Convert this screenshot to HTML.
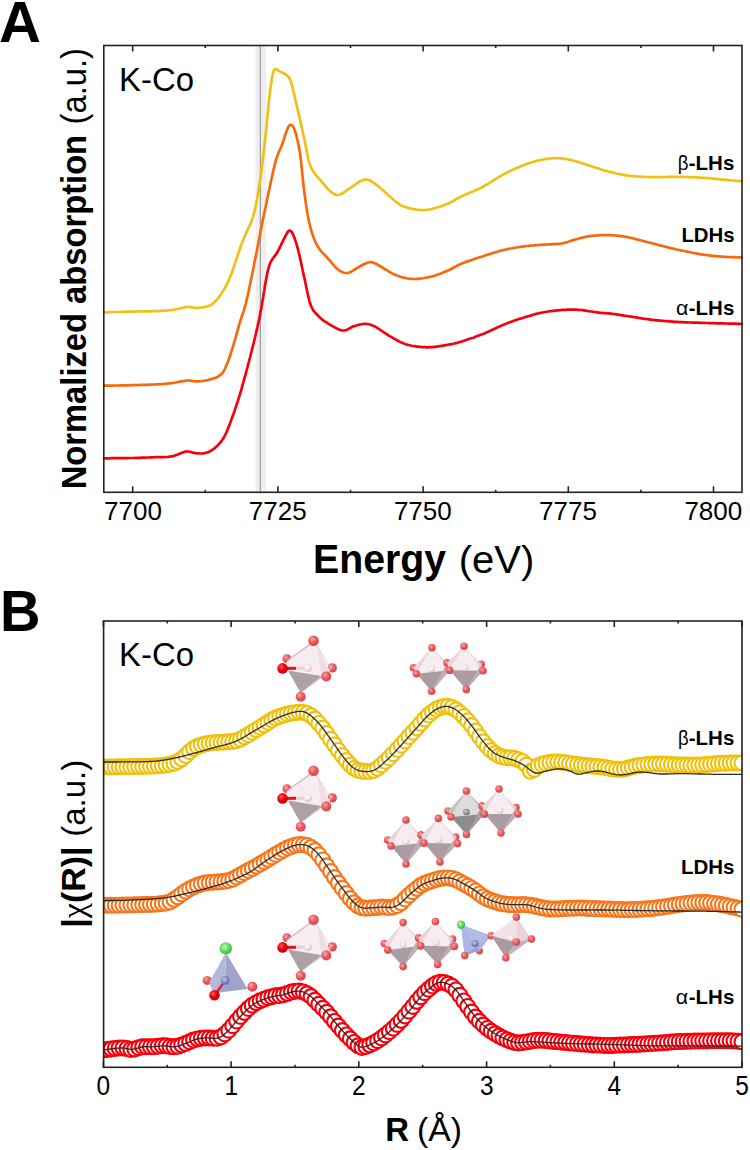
<!DOCTYPE html>
<html><head><meta charset="utf-8"><style>
html,body{margin:0;padding:0;background:#fff;width:750px;height:1150px;overflow:hidden}
svg{display:block}
</style></head><body>
<svg width="750" height="1150" viewBox="0 0 750 1150">
<defs>
<radialGradient id="gO" cx="0.38" cy="0.35" r="0.7"><stop offset="0" stop-color="#f7a5a5"/><stop offset="0.5" stop-color="#e85a5e"/><stop offset="1" stop-color="#d84048"/></radialGradient>
<radialGradient id="gD" cx="0.38" cy="0.35" r="0.7"><stop offset="0" stop-color="#ff5a5a"/><stop offset="0.5" stop-color="#e8000c"/><stop offset="1" stop-color="#c0000a"/></radialGradient>
<radialGradient id="gC" cx="0.4" cy="0.38" r="0.7"><stop offset="0" stop-color="#ffffff"/><stop offset="0.6" stop-color="#f6d8e0"/><stop offset="1" stop-color="#d8a8b4"/></radialGradient>
<radialGradient id="gK" cx="0.4" cy="0.38" r="0.7"><stop offset="0" stop-color="#cfcfcf"/><stop offset="0.6" stop-color="#8a8a8a"/><stop offset="1" stop-color="#5a5a5a"/></radialGradient>
<radialGradient id="gG" cx="0.4" cy="0.38" r="0.7"><stop offset="0" stop-color="#b8ffb0"/><stop offset="0.55" stop-color="#5ad65a"/><stop offset="1" stop-color="#38b040"/></radialGradient>
<radialGradient id="gB" cx="0.4" cy="0.38" r="0.7"><stop offset="0" stop-color="#c8ccf0"/><stop offset="0.6" stop-color="#7a80b8"/><stop offset="1" stop-color="#5a6098"/></radialGradient>
<clipPath id="clipB"><rect x="103.6" y="621" width="638.4" height="446.3"/></clipPath>
</defs>
<rect width="750" height="1150" fill="#fff"/>
<g font-family="Liberation Sans, sans-serif" font-weight="bold">
<text x="-1" y="41.5" font-size="58">A</text>
<text x="0" y="631" font-size="58" textLength="40.5" lengthAdjust="spacingAndGlyphs">B</text>
</g>
<!-- panel A -->
<rect x="255.5" y="46" width="10.5" height="446" fill="#efefef"/>
<line x1="260.3" y1="46" x2="260.3" y2="492" stroke="#8a8a8a" stroke-width="1"/>
<g fill="none" stroke-width="2.7" stroke-linejoin="round" stroke-linecap="round">
<path d="M104.0,312.4 L105.7,312.4 L107.0,312.3 L108.5,312.3 L110.0,312.2 L111.5,312.2 L113.0,312.1 L114.5,312.1 L116.0,312.0 L117.5,312.0 L119.0,312.0 L120.5,311.9 L122.0,311.9 L123.5,311.8 L125.0,311.8 L126.5,311.7 L128.0,311.7 L129.5,311.7 L131.0,311.6 L132.5,311.6 L134.0,311.6 L135.5,311.5 L137.0,311.5 L138.5,311.5 L140.0,311.4 L141.5,311.4 L143.0,311.4 L144.5,311.4 L146.0,311.3 L147.5,311.3 L149.0,311.3 L150.5,311.3 L152.0,311.2 L153.5,311.2 L155.0,311.1 L156.5,311.1 L158.0,311.0 L159.5,310.9 L161.0,310.9 L162.5,310.8 L164.0,310.7 L165.5,310.6 L166.9,310.5 L168.4,310.3 L169.9,310.2 L171.4,310.0 L172.9,309.9 L174.4,309.6 L175.9,309.3 L177.3,309.0 L178.8,308.7 L180.3,308.3 L181.7,308.0 L183.2,307.7 L184.6,307.3 L186.1,307.1 L187.6,306.9 L189.1,307.0 L190.6,307.1 L192.0,307.3 L193.5,307.6 L195.0,307.8 L196.5,307.8 L198.0,307.8 L199.5,307.7 L201.0,307.5 L202.5,307.3 L203.9,307.1 L205.4,306.8 L206.9,306.4 L208.3,306.0 L209.7,305.5 L211.0,304.8 L212.3,304.1 L213.5,303.1 L214.5,302.1 L215.6,301.0 L216.6,299.9 L217.6,298.8 L218.5,297.7 L219.4,296.5 L220.2,295.2 L221.1,293.9 L221.9,292.7 L222.7,291.4 L223.5,290.2 L224.3,288.9 L225.0,287.6 L225.7,286.3 L226.5,285.0 L227.1,283.6 L227.8,282.3 L228.4,280.9 L229.0,279.5 L229.6,278.2 L230.2,276.8 L230.7,275.4 L231.3,274.0 L231.8,272.6 L232.3,271.2 L232.8,269.7 L233.3,268.3 L233.8,266.9 L234.3,265.5 L234.8,264.1 L235.2,262.7 L235.7,261.2 L236.2,259.8 L236.7,258.4 L237.2,257.0 L237.6,255.5 L238.1,254.1 L238.6,252.7 L239.1,251.3 L239.6,249.9 L240.0,248.4 L240.5,247.0 L241.0,245.6 L241.5,244.2 L242.1,242.8 L242.6,241.4 L243.1,240.0 L243.7,238.6 L244.3,237.2 L244.9,235.8 L245.5,234.5 L246.1,233.1 L246.7,231.8 L247.4,230.4 L248.0,229.0 L248.6,227.7 L249.3,226.3 L249.9,225.0 L250.5,223.6 L251.1,222.2 L251.6,220.8 L252.1,219.4 L252.6,218.0 L253.1,216.6 L253.5,215.1 L253.9,213.7 L254.3,212.2 L254.7,210.8 L255.0,209.3 L255.3,207.8 L255.6,206.4 L256.0,204.9 L256.2,203.4 L256.5,202.0 L256.8,200.5 L257.1,199.0 L257.3,197.5 L257.6,196.1 L257.8,194.6 L258.1,193.1 L258.3,191.6 L258.5,190.1 L258.7,188.7 L259.0,187.2 L259.2,185.7 L259.4,184.2 L259.6,182.7 L259.9,181.2 L260.1,179.8 L260.3,178.3 L260.5,176.8 L260.7,175.3 L261.0,173.8 L261.2,172.3 L261.4,170.8 L261.6,169.4 L261.7,167.9 L261.9,166.4 L262.1,164.9 L262.3,163.4 L262.5,161.9 L262.7,160.4 L262.9,158.9 L263.0,157.5 L263.2,156.0 L263.4,154.5 L263.6,153.0 L263.7,151.5 L263.9,150.0 L264.1,148.5 L264.3,147.0 L264.4,145.5 L264.6,144.1 L264.8,142.6 L264.9,141.1 L265.1,139.6 L265.3,138.1 L265.4,136.6 L265.6,135.1 L265.8,133.6 L265.9,132.1 L266.1,130.6 L266.2,129.1 L266.4,127.7 L266.5,126.2 L266.7,124.7 L266.8,123.2 L267.0,121.7 L267.1,120.2 L267.2,118.7 L267.4,117.2 L267.5,115.7 L267.7,114.2 L267.8,112.7 L267.9,111.2 L268.1,109.7 L268.2,108.2 L268.4,106.8 L268.5,105.3 L268.7,103.8 L268.8,102.3 L269.0,100.8 L269.1,99.3 L269.3,97.8 L269.5,96.3 L269.6,94.8 L269.8,93.3 L270.0,91.8 L270.2,90.4 L270.4,88.9 L270.6,87.4 L270.8,85.9 L271.0,84.4 L271.2,82.9 L271.5,81.4 L271.7,80.0 L271.9,78.5 L272.2,77.0 L272.5,75.5 L272.8,74.1 L273.2,72.6 L273.6,71.2 L274.2,70.0 L275.1,69.2 L276.2,69.2 L277.3,69.7 L278.4,70.6 L279.6,71.4 L281.0,72.1 L282.3,72.6 L283.7,73.2 L285.0,74.0 L286.2,74.8 L287.4,75.7 L288.4,76.8 L289.2,78.0 L289.9,79.3 L290.5,80.7 L291.0,82.1 L291.4,83.5 L291.8,85.0 L292.2,86.4 L292.6,87.9 L293.0,89.3 L293.3,90.8 L293.7,92.2 L294.0,93.7 L294.4,95.2 L294.7,96.6 L295.1,98.1 L295.4,99.5 L295.7,101.0 L296.1,102.5 L296.4,103.9 L296.7,105.4 L297.1,106.8 L297.4,108.3 L297.8,109.8 L298.1,111.2 L298.4,112.7 L298.8,114.2 L299.1,115.6 L299.4,117.1 L299.7,118.5 L300.1,120.0 L300.4,121.5 L300.7,122.9 L301.0,124.4 L301.4,125.9 L301.7,127.3 L302.0,128.8 L302.3,130.3 L302.7,131.7 L303.0,133.2 L303.3,134.7 L303.6,136.1 L303.9,137.6 L304.3,139.0 L304.6,140.5 L304.9,142.0 L305.2,143.4 L305.5,144.9 L305.8,146.4 L306.1,147.8 L306.4,149.3 L306.7,150.8 L307.0,152.3 L307.2,153.7 L307.5,155.2 L307.8,156.7 L308.1,158.2 L308.4,159.6 L308.8,161.1 L309.3,162.5 L309.7,163.9 L310.2,165.3 L310.8,166.7 L311.4,168.1 L312.1,169.4 L312.9,170.7 L313.7,172.0 L314.5,173.2 L315.4,174.4 L316.4,175.6 L317.3,176.7 L318.3,177.8 L319.3,179.0 L320.3,180.1 L321.2,181.3 L322.2,182.4 L323.2,183.6 L324.1,184.7 L325.1,185.9 L326.1,187.0 L327.1,188.1 L328.1,189.2 L329.2,190.2 L330.3,191.2 L331.5,192.2 L332.7,193.0 L333.9,193.8 L335.3,194.5 L336.7,194.9 L338.1,195.0 L339.5,194.7 L340.9,194.2 L342.2,193.5 L343.5,192.7 L344.7,191.9 L345.9,191.0 L347.1,190.1 L348.4,189.3 L349.6,188.4 L350.9,187.6 L352.1,186.7 L353.3,185.9 L354.5,185.0 L355.8,184.1 L357.0,183.3 L358.2,182.4 L359.5,181.7 L360.8,180.9 L362.2,180.3 L363.6,179.9 L365.0,179.6 L366.5,179.6 L368.0,179.9 L369.4,180.3 L370.7,181.0 L372.0,181.7 L373.2,182.5 L374.5,183.4 L375.7,184.2 L376.9,185.2 L378.1,186.1 L379.2,187.1 L380.3,188.0 L381.5,189.0 L382.6,190.1 L383.7,191.1 L384.8,192.1 L385.9,193.1 L387.0,194.1 L388.1,195.1 L389.3,196.0 L390.4,197.0 L391.6,198.0 L392.7,199.0 L393.8,200.0 L394.9,201.0 L396.1,202.0 L397.2,202.9 L398.5,203.7 L399.7,204.5 L401.1,205.2 L402.4,205.8 L403.8,206.4 L405.2,206.9 L406.6,207.4 L408.1,207.8 L409.5,208.2 L411.0,208.6 L412.4,208.9 L413.9,209.2 L415.4,209.4 L416.9,209.7 L418.4,209.8 L419.8,210.0 L421.3,210.0 L422.8,210.1 L424.3,210.0 L425.8,209.9 L427.3,209.8 L428.8,209.5 L430.3,209.3 L431.7,209.0 L433.2,208.6 L434.7,208.2 L436.1,207.8 L437.5,207.4 L439.0,206.9 L440.4,206.5 L441.8,206.0 L443.2,205.5 L444.6,205.0 L446.0,204.4 L447.4,203.8 L448.8,203.2 L450.1,202.6 L451.4,201.9 L452.8,201.2 L454.1,200.4 L455.4,199.7 L456.7,198.9 L458.0,198.2 L459.3,197.5 L460.7,196.8 L462.0,196.2 L463.4,195.6 L464.7,194.9 L466.1,194.3 L467.5,193.8 L468.9,193.2 L470.2,192.6 L471.6,192.0 L473.0,191.4 L474.4,190.8 L475.8,190.2 L477.1,189.6 L478.5,189.0 L479.8,188.3 L481.2,187.7 L482.5,187.0 L483.8,186.3 L485.1,185.5 L486.4,184.8 L487.7,184.0 L489.0,183.2 L490.3,182.4 L491.6,181.6 L492.8,180.8 L494.1,180.0 L495.4,179.2 L496.6,178.4 L497.9,177.6 L499.2,176.9 L500.5,176.1 L501.8,175.3 L503.1,174.6 L504.4,173.9 L505.7,173.2 L507.1,172.5 L508.4,171.9 L509.8,171.2 L511.1,170.6 L512.5,169.9 L513.8,169.3 L515.2,168.7 L516.6,168.1 L517.9,167.5 L519.3,166.9 L520.7,166.3 L522.1,165.8 L523.5,165.2 L524.9,164.7 L526.3,164.1 L527.7,163.6 L529.1,163.1 L530.5,162.7 L532.0,162.2 L533.4,161.8 L534.9,161.4 L536.3,161.0 L537.8,160.6 L539.2,160.3 L540.7,160.0 L542.2,159.7 L543.6,159.4 L545.1,159.1 L546.6,158.9 L548.1,158.7 L549.6,158.5 L551.0,158.3 L552.5,158.2 L554.0,158.1 L555.5,158.1 L557.0,158.1 L558.5,158.2 L560.0,158.3 L561.5,158.4 L563.0,158.6 L564.5,158.8 L566.0,159.0 L567.5,159.3 L568.9,159.6 L570.4,159.9 L571.8,160.2 L573.3,160.6 L574.8,161.0 L576.2,161.4 L577.6,161.8 L579.1,162.2 L580.5,162.7 L581.9,163.2 L583.3,163.6 L584.8,164.1 L586.2,164.6 L587.6,165.0 L589.0,165.5 L590.5,166.0 L591.9,166.4 L593.3,166.9 L594.7,167.4 L596.2,167.8 L597.6,168.3 L599.0,168.8 L600.4,169.2 L601.9,169.7 L603.3,170.1 L604.8,170.5 L606.2,170.9 L607.7,171.3 L609.1,171.7 L610.6,172.0 L612.0,172.4 L613.5,172.8 L614.9,173.1 L616.4,173.5 L617.8,173.8 L619.3,174.1 L620.8,174.4 L622.3,174.7 L623.7,174.9 L625.2,175.2 L626.7,175.4 L628.2,175.6 L629.7,175.8 L631.2,176.0 L632.6,176.1 L634.1,176.3 L635.6,176.4 L637.1,176.5 L638.6,176.6 L640.1,176.7 L641.6,176.8 L643.1,176.9 L644.6,176.9 L646.1,177.0 L647.6,177.1 L649.1,177.1 L650.6,177.2 L652.1,177.2 L653.6,177.2 L655.1,177.2 L656.6,177.2 L658.1,177.2 L659.6,177.2 L661.1,177.1 L662.6,177.1 L664.1,177.0 L665.6,177.0 L667.1,177.0 L668.6,176.9 L670.1,176.9 L671.6,176.8 L673.1,176.8 L674.6,176.8 L676.1,176.8 L677.6,176.8 L679.1,176.8 L680.6,176.9 L682.1,176.9 L683.6,176.9 L685.1,177.0 L686.6,177.0 L688.1,177.1 L689.6,177.1 L691.1,177.2 L692.6,177.2 L694.1,177.3 L695.6,177.4 L697.1,177.4 L698.6,177.5 L700.1,177.6 L701.6,177.7 L703.1,177.8 L704.6,177.9 L706.1,178.0 L707.6,178.1 L709.1,178.2 L710.5,178.3 L712.0,178.5 L713.5,178.6 L715.0,178.8 L716.5,178.9 L718.0,179.1 L719.5,179.2 L721.0,179.4 L722.5,179.5 L724.0,179.7 L725.5,179.8 L727.0,179.9 L728.5,180.1 L730.0,180.2 L731.4,180.4 L732.9,180.5 L734.4,180.6 L735.9,180.8 L737.4,180.9 L738.9,181.0 L740.2,181.1 L741.9,181.3" stroke="#EFC116"/>
<path d="M104.0,385.7 L105.7,385.7 L107.0,385.7 L108.5,385.6 L110.0,385.6 L111.5,385.6 L113.0,385.6 L114.5,385.5 L116.0,385.5 L117.5,385.5 L119.0,385.5 L120.5,385.4 L122.0,385.4 L123.5,385.4 L125.0,385.4 L126.5,385.3 L128.0,385.3 L129.5,385.3 L131.0,385.2 L132.5,385.2 L134.0,385.2 L135.4,385.1 L136.9,385.1 L138.4,385.0 L139.9,385.0 L141.4,384.9 L142.9,384.9 L144.4,384.9 L145.9,384.8 L147.4,384.8 L148.9,384.7 L150.4,384.6 L151.9,384.6 L153.4,384.5 L154.9,384.5 L156.4,384.4 L157.9,384.3 L159.4,384.2 L160.9,384.1 L162.4,384.0 L163.9,383.9 L165.4,383.8 L166.9,383.7 L168.4,383.5 L169.8,383.3 L171.3,383.2 L172.8,383.0 L174.3,382.7 L175.8,382.5 L177.2,382.2 L178.7,381.9 L180.2,381.7 L181.7,381.4 L183.1,381.1 L184.6,380.9 L186.1,380.7 L187.6,380.5 L189.1,380.5 L190.5,380.6 L192.0,380.9 L193.5,381.1 L194.9,381.3 L196.4,381.4 L197.9,381.4 L199.4,381.3 L200.9,381.2 L202.4,381.0 L203.9,380.8 L205.4,380.6 L206.8,380.3 L208.3,380.0 L209.7,379.6 L211.2,379.2 L212.6,378.8 L214.0,378.3 L215.4,377.8 L216.8,377.2 L218.1,376.5 L219.4,375.7 L220.6,374.8 L221.7,373.8 L222.6,372.7 L223.5,371.5 L224.2,370.2 L224.9,368.8 L225.5,367.5 L226.1,366.1 L226.7,364.7 L227.3,363.3 L227.8,362.0 L228.4,360.6 L228.9,359.1 L229.4,357.7 L229.9,356.3 L230.3,354.9 L230.8,353.5 L231.2,352.0 L231.7,350.6 L232.1,349.2 L232.6,347.7 L233.0,346.3 L233.5,344.9 L233.9,343.4 L234.3,342.0 L234.7,340.6 L235.2,339.1 L235.6,337.7 L236.0,336.3 L236.4,334.8 L236.8,333.4 L237.2,331.9 L237.6,330.5 L238.0,329.0 L238.4,327.6 L238.8,326.2 L239.2,324.7 L239.6,323.3 L240.1,321.8 L240.5,320.4 L241.0,319.0 L241.4,317.6 L241.9,316.1 L242.4,314.7 L242.9,313.3 L243.4,311.9 L243.8,310.5 L244.3,309.0 L244.7,307.6 L245.1,306.2 L245.5,304.7 L245.9,303.3 L246.2,301.8 L246.6,300.4 L246.9,298.9 L247.3,297.4 L247.6,296.0 L247.9,294.5 L248.2,293.1 L248.6,291.6 L248.9,290.1 L249.2,288.7 L249.5,287.2 L249.8,285.7 L250.1,284.3 L250.4,282.8 L250.7,281.3 L251.0,279.9 L251.3,278.4 L251.6,276.9 L251.9,275.5 L252.2,274.0 L252.5,272.5 L252.8,271.1 L253.1,269.6 L253.4,268.1 L253.7,266.6 L254.0,265.2 L254.2,263.7 L254.5,262.2 L254.8,260.8 L255.1,259.3 L255.4,257.8 L255.7,256.4 L256.0,254.9 L256.3,253.4 L256.6,252.0 L256.9,250.5 L257.2,249.0 L257.5,247.6 L257.8,246.1 L258.1,244.6 L258.3,243.1 L258.6,241.7 L258.9,240.2 L259.2,238.7 L259.5,237.3 L259.8,235.8 L260.0,234.3 L260.3,232.8 L260.6,231.4 L260.9,229.9 L261.2,228.4 L261.5,227.0 L261.8,225.5 L262.1,224.0 L262.4,222.6 L262.6,221.1 L262.9,219.6 L263.2,218.2 L263.5,216.7 L263.8,215.2 L264.1,213.8 L264.4,212.3 L264.8,210.8 L265.1,209.4 L265.4,207.9 L265.7,206.4 L266.0,205.0 L266.3,203.5 L266.6,202.0 L266.9,200.6 L267.2,199.1 L267.5,197.6 L267.8,196.2 L268.1,194.7 L268.4,193.2 L268.7,191.8 L269.0,190.3 L269.4,188.8 L269.7,187.4 L270.0,185.9 L270.3,184.4 L270.6,183.0 L270.9,181.5 L271.2,180.0 L271.6,178.6 L271.9,177.1 L272.2,175.7 L272.5,174.2 L272.9,172.7 L273.2,171.3 L273.5,169.8 L273.9,168.4 L274.2,166.9 L274.6,165.4 L275.0,164.0 L275.3,162.5 L275.7,161.1 L276.1,159.7 L276.5,158.2 L277.0,156.8 L277.5,155.4 L278.0,154.0 L278.6,152.6 L279.2,151.2 L279.8,149.9 L280.5,148.5 L281.1,147.1 L281.6,145.8 L282.2,144.4 L282.7,142.9 L283.2,141.5 L283.6,140.1 L284.1,138.7 L284.5,137.3 L285.0,135.8 L285.5,134.4 L285.9,133.0 L286.4,131.6 L287.0,130.2 L287.5,128.8 L288.1,127.4 L288.8,126.2 L289.7,125.2 L290.8,124.7 L291.8,125.0 L292.7,125.9 L293.5,127.2 L294.1,128.5 L294.6,129.9 L295.1,131.3 L295.5,132.8 L296.0,134.2 L296.4,135.6 L296.7,137.1 L297.1,138.6 L297.4,140.0 L297.8,141.5 L298.1,142.9 L298.4,144.4 L298.7,145.9 L299.0,147.3 L299.3,148.8 L299.5,150.3 L299.8,151.8 L300.0,153.2 L300.2,154.7 L300.4,156.2 L300.6,157.7 L300.8,159.2 L301.0,160.7 L301.1,162.2 L301.3,163.6 L301.4,165.1 L301.6,166.6 L301.8,168.1 L301.9,169.6 L302.0,171.1 L302.2,172.6 L302.3,174.1 L302.5,175.6 L302.6,177.1 L302.8,178.5 L302.9,180.0 L303.1,181.5 L303.2,183.0 L303.4,184.5 L303.6,186.0 L303.7,187.5 L303.9,189.0 L304.1,190.5 L304.3,191.9 L304.5,193.4 L304.7,194.9 L304.9,196.4 L305.1,197.9 L305.3,199.4 L305.5,200.8 L305.7,202.3 L306.0,203.8 L306.2,205.3 L306.4,206.8 L306.6,208.2 L306.9,209.7 L307.1,211.2 L307.4,212.7 L307.6,214.2 L307.9,215.6 L308.1,217.1 L308.4,218.6 L308.7,220.0 L309.0,221.5 L309.4,223.0 L309.7,224.4 L310.1,225.9 L310.4,227.3 L310.8,228.8 L311.2,230.2 L311.6,231.7 L312.1,233.1 L312.5,234.5 L313.0,235.9 L313.5,237.4 L314.1,238.8 L314.6,240.1 L315.2,241.5 L315.8,242.9 L316.5,244.2 L317.2,245.5 L317.9,246.8 L318.8,248.1 L319.6,249.3 L320.6,250.5 L321.5,251.6 L322.6,252.7 L323.6,253.8 L324.6,254.9 L325.7,255.9 L326.7,257.0 L327.7,258.1 L328.7,259.3 L329.6,260.4 L330.6,261.6 L331.6,262.7 L332.5,263.9 L333.5,265.0 L334.5,266.1 L335.5,267.2 L336.6,268.3 L337.7,269.2 L338.9,270.2 L340.1,271.0 L341.4,271.7 L342.8,272.3 L344.2,272.7 L345.7,273.0 L347.1,273.0 L348.6,272.8 L350.0,272.3 L351.3,271.7 L352.6,270.9 L353.8,270.1 L355.1,269.2 L356.4,268.5 L357.6,267.7 L359.0,267.0 L360.3,266.2 L361.6,265.5 L362.9,264.8 L364.2,264.1 L365.6,263.5 L367.0,262.9 L368.4,262.5 L369.8,262.2 L371.3,262.2 L372.7,262.4 L374.1,262.9 L375.5,263.5 L376.8,264.2 L378.1,265.0 L379.4,265.8 L380.7,266.5 L382.0,267.3 L383.3,268.0 L384.5,268.8 L385.8,269.6 L387.1,270.4 L388.4,271.2 L389.6,271.9 L390.9,272.7 L392.2,273.4 L393.6,274.1 L394.9,274.7 L396.3,275.3 L397.7,275.8 L399.1,276.3 L400.6,276.8 L402.0,277.2 L403.4,277.6 L404.9,277.9 L406.4,278.2 L407.8,278.5 L409.3,278.7 L410.8,278.8 L412.3,278.9 L413.8,279.0 L415.3,279.0 L416.8,278.9 L418.3,278.8 L419.8,278.6 L421.3,278.5 L422.7,278.3 L424.2,278.0 L425.7,277.7 L427.2,277.5 L428.6,277.1 L430.1,276.8 L431.5,276.5 L433.0,276.1 L434.4,275.7 L435.9,275.2 L437.3,274.8 L438.7,274.3 L440.1,273.8 L441.5,273.2 L442.9,272.6 L444.3,272.1 L445.6,271.5 L447.0,270.9 L448.4,270.3 L449.8,269.7 L451.1,269.0 L452.4,268.3 L453.7,267.6 L455.0,266.9 L456.3,266.1 L457.7,265.4 L459.0,264.8 L460.4,264.1 L461.7,263.5 L463.1,263.0 L464.5,262.5 L465.9,261.9 L467.4,261.4 L468.8,260.9 L470.2,260.4 L471.6,260.0 L473.0,259.5 L474.4,259.0 L475.9,258.5 L477.3,258.1 L478.7,257.6 L480.1,257.1 L481.6,256.7 L483.0,256.2 L484.4,255.7 L485.8,255.3 L487.3,254.8 L488.7,254.4 L490.1,253.9 L491.5,253.4 L493.0,253.0 L494.4,252.6 L495.8,252.1 L497.3,251.7 L498.7,251.3 L500.1,250.9 L501.6,250.5 L503.0,250.1 L504.5,249.8 L506.0,249.5 L507.4,249.1 L508.9,248.8 L510.4,248.5 L511.8,248.3 L513.3,248.0 L514.8,247.7 L516.3,247.5 L517.7,247.3 L519.2,247.0 L520.7,246.8 L522.2,246.6 L523.7,246.4 L525.2,246.2 L526.6,246.0 L528.1,245.9 L529.6,245.7 L531.1,245.6 L532.6,245.5 L534.1,245.4 L535.6,245.2 L537.1,245.1 L538.6,245.0 L540.1,244.9 L541.6,244.8 L543.1,244.7 L544.6,244.6 L546.1,244.5 L547.5,244.5 L549.0,244.4 L550.5,244.3 L552.0,244.2 L553.5,244.2 L555.0,244.1 L556.5,244.0 L558.0,243.9 L559.5,243.8 L561.0,243.6 L562.5,243.3 L563.9,243.0 L565.4,242.6 L566.8,242.2 L568.2,241.8 L569.7,241.3 L571.1,240.8 L572.5,240.4 L574.0,239.9 L575.4,239.5 L576.8,239.1 L578.3,238.7 L579.7,238.3 L581.2,237.9 L582.6,237.6 L584.1,237.2 L585.5,236.9 L587.0,236.6 L588.5,236.3 L590.0,236.1 L591.4,235.9 L592.9,235.8 L594.4,235.6 L595.9,235.5 L597.4,235.4 L598.9,235.3 L600.4,235.2 L601.9,235.2 L603.4,235.1 L604.9,235.1 L606.4,235.1 L607.9,235.1 L609.4,235.1 L610.9,235.2 L612.4,235.3 L613.9,235.4 L615.4,235.5 L616.9,235.6 L618.3,235.8 L619.8,235.9 L621.3,236.1 L622.8,236.4 L624.3,236.6 L625.8,236.8 L627.2,237.1 L628.7,237.4 L630.2,237.7 L631.6,238.0 L633.1,238.4 L634.5,238.7 L636.0,239.1 L637.4,239.5 L638.9,239.9 L640.3,240.2 L641.8,240.6 L643.2,241.0 L644.7,241.4 L646.1,241.8 L647.6,242.2 L649.0,242.5 L650.5,242.9 L651.9,243.3 L653.4,243.6 L654.8,244.0 L656.3,244.4 L657.7,244.8 L659.2,245.1 L660.6,245.5 L662.1,245.9 L663.5,246.3 L665.0,246.6 L666.4,247.0 L667.9,247.4 L669.3,247.7 L670.8,248.1 L672.2,248.4 L673.7,248.8 L675.2,249.1 L676.6,249.5 L678.1,249.8 L679.6,250.1 L681.0,250.4 L682.5,250.7 L684.0,251.0 L685.4,251.3 L686.9,251.6 L688.4,251.9 L689.8,252.2 L691.3,252.5 L692.8,252.8 L694.2,253.1 L695.7,253.3 L697.2,253.6 L698.7,253.9 L700.1,254.1 L701.6,254.4 L703.1,254.6 L704.6,254.8 L706.1,255.0 L707.5,255.2 L709.0,255.4 L710.5,255.6 L712.0,255.8 L713.5,255.9 L715.0,256.1 L716.5,256.2 L718.0,256.3 L719.5,256.4 L721.0,256.6 L722.4,256.7 L723.9,256.8 L725.4,256.9 L726.9,257.0 L728.4,257.0 L729.9,257.1 L731.4,257.1 L732.9,257.2 L734.4,257.2 L735.9,257.3 L737.4,257.3 L738.9,257.3 L740.2,257.4 L741.9,257.4" stroke="#F66A0C"/>
<path d="M104.0,458.3 L105.7,458.3 L107.0,458.3 L108.5,458.3 L110.0,458.3 L111.5,458.2 L113.0,458.2 L114.5,458.2 L116.0,458.2 L117.5,458.2 L119.0,458.2 L120.5,458.2 L122.0,458.1 L123.5,458.1 L125.0,458.1 L126.5,458.1 L128.0,458.1 L129.5,458.0 L131.0,458.0 L132.5,458.0 L134.0,458.0 L135.5,457.9 L137.0,457.9 L138.5,457.8 L140.0,457.8 L141.5,457.7 L143.0,457.7 L144.5,457.6 L146.0,457.6 L147.5,457.5 L149.0,457.5 L150.5,457.4 L152.0,457.4 L153.5,457.3 L155.0,457.2 L156.5,457.2 L158.0,457.2 L159.5,457.1 L161.0,457.1 L162.4,457.1 L163.9,457.1 L165.4,457.0 L166.9,457.0 L168.4,456.8 L169.9,456.7 L171.4,456.4 L172.9,456.1 L174.3,455.7 L175.7,455.3 L177.1,454.8 L178.5,454.2 L179.9,453.6 L181.3,453.1 L182.7,452.5 L184.1,452.0 L185.5,451.6 L187.0,451.4 L188.4,451.5 L189.9,451.8 L191.3,452.2 L192.7,452.6 L194.2,452.9 L195.7,453.1 L197.2,453.3 L198.7,453.4 L200.2,453.5 L201.6,453.5 L203.1,453.4 L204.6,453.1 L206.1,452.8 L207.5,452.4 L208.9,451.8 L210.2,451.2 L211.5,450.4 L212.8,449.6 L214.0,448.7 L215.1,447.7 L216.2,446.7 L217.3,445.7 L218.4,444.6 L219.4,443.5 L220.4,442.4 L221.3,441.2 L222.2,440.0 L223.0,438.8 L223.8,437.5 L224.5,436.2 L225.2,434.9 L225.9,433.5 L226.5,432.2 L227.1,430.8 L227.7,429.4 L228.2,428.0 L228.8,426.6 L229.3,425.2 L229.9,423.8 L230.4,422.4 L230.9,421.0 L231.4,419.6 L231.9,418.2 L232.4,416.8 L233.0,415.4 L233.5,414.0 L234.0,412.5 L234.5,411.1 L234.9,409.7 L235.4,408.3 L235.9,406.9 L236.4,405.5 L236.8,404.0 L237.3,402.6 L237.8,401.2 L238.2,399.7 L238.7,398.3 L239.1,396.9 L239.6,395.5 L240.0,394.0 L240.4,392.6 L240.9,391.1 L241.3,389.7 L241.7,388.3 L242.1,386.8 L242.5,385.4 L242.9,383.9 L243.3,382.5 L243.7,381.1 L244.1,379.6 L244.5,378.2 L244.9,376.7 L245.3,375.3 L245.7,373.8 L246.1,372.4 L246.5,370.9 L246.9,369.5 L247.3,368.0 L247.6,366.6 L248.0,365.1 L248.4,363.7 L248.8,362.2 L249.2,360.8 L249.5,359.3 L249.9,357.9 L250.3,356.4 L250.6,355.0 L251.0,353.5 L251.4,352.1 L251.7,350.6 L252.1,349.2 L252.5,347.7 L252.8,346.2 L253.2,344.8 L253.6,343.3 L253.9,341.9 L254.3,340.4 L254.6,339.0 L255.0,337.5 L255.3,336.1 L255.7,334.6 L256.0,333.1 L256.4,331.7 L256.7,330.2 L257.0,328.8 L257.4,327.3 L257.7,325.8 L258.0,324.4 L258.4,322.9 L258.7,321.4 L259.0,320.0 L259.3,318.5 L259.6,317.0 L259.9,315.6 L260.2,314.1 L260.4,312.6 L260.7,311.1 L261.0,309.7 L261.3,308.2 L261.5,306.7 L261.8,305.2 L262.0,303.8 L262.3,302.3 L262.5,300.8 L262.8,299.3 L263.0,297.9 L263.3,296.4 L263.5,294.9 L263.7,293.4 L264.0,291.9 L264.2,290.5 L264.5,289.0 L264.7,287.5 L264.9,286.0 L265.2,284.5 L265.5,283.1 L265.7,281.6 L266.0,280.1 L266.3,278.6 L266.5,277.2 L266.8,275.7 L267.1,274.2 L267.4,272.8 L267.7,271.3 L268.1,269.8 L268.5,268.4 L268.9,266.9 L269.3,265.5 L269.8,264.1 L270.4,262.7 L271.0,261.4 L271.8,260.1 L272.6,258.8 L273.5,257.6 L274.4,256.4 L275.3,255.2 L276.2,254.0 L277.0,252.8 L277.7,251.5 L278.4,250.2 L279.1,248.8 L279.8,247.5 L280.4,246.1 L281.1,244.8 L281.7,243.4 L282.4,242.1 L283.0,240.7 L283.7,239.4 L284.4,238.1 L285.1,236.7 L285.8,235.4 L286.5,234.1 L287.2,232.8 L288.0,231.6 L288.9,230.8 L290.0,230.6 L291.0,231.1 L291.9,232.2 L292.6,233.5 L293.2,234.8 L293.8,236.2 L294.3,237.6 L294.9,239.0 L295.3,240.4 L295.8,241.9 L296.3,243.3 L296.7,244.7 L297.1,246.2 L297.5,247.6 L297.9,249.1 L298.3,250.5 L298.6,252.0 L299.0,253.4 L299.3,254.9 L299.7,256.3 L300.0,257.8 L300.3,259.3 L300.6,260.7 L300.9,262.2 L301.3,263.7 L301.6,265.1 L301.9,266.6 L302.2,268.1 L302.5,269.5 L302.8,271.0 L303.2,272.5 L303.5,273.9 L303.8,275.4 L304.1,276.8 L304.5,278.3 L304.8,279.8 L305.1,281.2 L305.4,282.7 L305.7,284.2 L306.0,285.6 L306.3,287.1 L306.6,288.6 L306.9,290.1 L307.2,291.5 L307.5,293.0 L307.8,294.4 L308.2,295.9 L308.5,297.4 L308.9,298.8 L309.2,300.3 L309.6,301.7 L310.1,303.2 L310.6,304.6 L311.1,306.0 L311.7,307.3 L312.4,308.7 L313.1,310.0 L313.9,311.2 L314.9,312.4 L315.9,313.5 L316.9,314.6 L318.0,315.6 L319.1,316.7 L320.1,317.7 L321.2,318.7 L322.4,319.7 L323.6,320.6 L324.8,321.4 L326.1,322.2 L327.4,323.0 L328.6,323.8 L329.9,324.6 L331.2,325.3 L332.5,326.1 L333.8,326.9 L335.1,327.6 L336.4,328.3 L337.8,329.0 L339.1,329.6 L340.5,330.1 L342.0,330.4 L343.4,330.5 L344.9,330.4 L346.3,330.0 L347.6,329.4 L349.0,328.7 L350.3,327.9 L351.6,327.2 L352.9,326.6 L354.3,326.1 L355.8,325.7 L357.2,325.2 L358.6,324.8 L360.1,324.5 L361.6,324.2 L363.1,324.0 L364.5,323.9 L366.0,323.9 L367.5,324.0 L369.0,324.3 L370.4,324.7 L371.8,325.2 L373.2,325.7 L374.6,326.4 L375.9,327.1 L377.2,327.8 L378.4,328.6 L379.7,329.5 L380.9,330.3 L382.2,331.2 L383.4,332.0 L384.6,332.9 L385.9,333.7 L387.2,334.5 L388.4,335.3 L389.7,336.1 L391.0,336.8 L392.3,337.6 L393.6,338.3 L394.9,339.1 L396.2,339.8 L397.5,340.5 L398.8,341.2 L400.2,341.9 L401.5,342.5 L402.9,343.1 L404.3,343.7 L405.7,344.2 L407.2,344.6 L408.6,345.0 L410.1,345.3 L411.5,345.7 L413.0,346.0 L414.5,346.2 L416.0,346.4 L417.4,346.6 L418.9,346.8 L420.4,346.9 L421.9,347.1 L423.4,347.2 L424.9,347.2 L426.4,347.3 L427.9,347.3 L429.4,347.2 L430.9,347.2 L432.4,347.1 L433.9,346.9 L435.4,346.8 L436.9,346.6 L438.3,346.4 L439.8,346.2 L441.3,345.9 L442.8,345.7 L444.3,345.4 L445.7,345.1 L447.2,344.9 L448.7,344.6 L450.2,344.3 L451.6,344.1 L453.1,343.8 L454.6,343.5 L456.0,343.1 L457.5,342.7 L458.9,342.3 L460.4,341.9 L461.8,341.4 L463.2,341.0 L464.6,340.5 L466.1,340.1 L467.5,339.6 L468.9,339.1 L470.3,338.6 L471.8,338.1 L473.2,337.7 L474.6,337.2 L476.0,336.6 L477.4,336.1 L478.8,335.6 L480.2,335.1 L481.6,334.5 L483.0,334.0 L484.4,333.4 L485.8,332.8 L487.1,332.2 L488.5,331.6 L489.9,330.9 L491.2,330.3 L492.6,329.7 L493.9,329.0 L495.3,328.4 L496.6,327.8 L498.0,327.1 L499.4,326.5 L500.7,325.9 L502.1,325.3 L503.5,324.7 L504.9,324.2 L506.3,323.6 L507.7,323.1 L509.1,322.5 L510.5,322.0 L511.9,321.5 L513.3,321.0 L514.7,320.5 L516.1,320.0 L517.6,319.6 L519.0,319.1 L520.4,318.6 L521.8,318.2 L523.3,317.7 L524.7,317.3 L526.1,316.8 L527.6,316.4 L529.0,316.0 L530.4,315.6 L531.9,315.1 L533.3,314.7 L534.8,314.3 L536.2,313.9 L537.7,313.5 L539.1,313.2 L540.6,312.9 L542.0,312.5 L543.5,312.3 L545.0,312.0 L546.5,311.8 L548.0,311.5 L549.4,311.3 L550.9,311.1 L552.4,310.9 L553.9,310.8 L555.4,310.6 L556.9,310.4 L558.4,310.3 L559.9,310.2 L561.4,310.0 L562.9,309.9 L564.3,309.8 L565.8,309.8 L567.3,309.7 L568.8,309.6 L570.3,309.6 L571.8,309.6 L573.3,309.6 L574.8,309.6 L576.3,309.7 L577.8,309.8 L579.3,309.9 L580.8,310.0 L582.3,310.2 L583.8,310.4 L585.3,310.6 L586.8,310.8 L588.2,311.0 L589.7,311.3 L591.2,311.5 L592.7,311.7 L594.2,312.0 L595.7,312.2 L597.1,312.4 L598.6,312.6 L600.1,312.8 L601.6,312.9 L603.1,313.1 L604.6,313.2 L606.1,313.2 L607.6,313.3 L609.1,313.4 L610.6,313.6 L612.1,313.8 L613.5,314.0 L615.0,314.2 L616.5,314.4 L618.0,314.6 L619.5,314.9 L621.0,315.1 L622.4,315.3 L623.9,315.6 L625.4,315.8 L626.9,316.0 L628.4,316.2 L629.8,316.5 L631.3,316.7 L632.8,316.9 L634.3,317.2 L635.8,317.4 L637.2,317.6 L638.7,317.9 L640.2,318.1 L641.7,318.4 L643.2,318.6 L644.6,318.8 L646.1,319.0 L647.6,319.2 L649.1,319.4 L650.6,319.6 L652.1,319.8 L653.6,320.0 L655.1,320.1 L656.5,320.3 L658.0,320.4 L659.5,320.6 L661.0,320.7 L662.5,320.8 L664.0,321.0 L665.5,321.1 L667.0,321.2 L668.5,321.3 L670.0,321.4 L671.5,321.6 L673.0,321.7 L674.5,321.8 L676.0,321.8 L677.5,321.9 L679.0,322.0 L680.5,322.1 L682.0,322.2 L683.5,322.2 L685.0,322.3 L686.5,322.4 L688.0,322.4 L689.4,322.5 L690.9,322.5 L692.4,322.6 L693.9,322.6 L695.4,322.7 L696.9,322.7 L698.4,322.7 L699.9,322.8 L701.4,322.8 L702.9,322.9 L704.4,322.9 L705.9,323.0 L707.4,323.0 L708.9,323.1 L710.4,323.1 L711.9,323.1 L713.4,323.2 L714.9,323.2 L716.4,323.3 L717.9,323.3 L719.4,323.3 L720.9,323.4 L722.4,323.4 L723.9,323.4 L725.4,323.5 L726.9,323.5 L728.4,323.6 L729.9,323.6 L731.4,323.6 L732.9,323.7 L734.4,323.7 L735.9,323.7 L737.4,323.8 L738.9,323.8 L740.2,323.9 L741.9,323.9" stroke="#F4000F"/>
</g>
<g stroke="#222" stroke-width="1.6" fill="none">
<rect x="103.8" y="45.5" width="638.2" height="446.8"/>
<line x1="132.7" y1="45.5" x2="132.7" y2="51.5"/><line x1="132.7" y1="492.3" x2="132.7" y2="486.3"/><line x1="205.3" y1="45.5" x2="205.3" y2="48.0"/><line x1="205.3" y1="492.3" x2="205.3" y2="489.8"/><line x1="277.9" y1="45.5" x2="277.9" y2="51.5"/><line x1="277.9" y1="492.3" x2="277.9" y2="486.3"/><line x1="350.5" y1="45.5" x2="350.5" y2="48.0"/><line x1="350.5" y1="492.3" x2="350.5" y2="489.8"/><line x1="423.1" y1="45.5" x2="423.1" y2="51.5"/><line x1="423.1" y1="492.3" x2="423.1" y2="486.3"/><line x1="495.7" y1="45.5" x2="495.7" y2="48.0"/><line x1="495.7" y1="492.3" x2="495.7" y2="489.8"/><line x1="568.3" y1="45.5" x2="568.3" y2="51.5"/><line x1="568.3" y1="492.3" x2="568.3" y2="486.3"/><line x1="640.9" y1="45.5" x2="640.9" y2="48.0"/><line x1="640.9" y1="492.3" x2="640.9" y2="489.8"/><line x1="713.5" y1="45.5" x2="713.5" y2="51.5"/><line x1="713.5" y1="492.3" x2="713.5" y2="486.3"/>
</g>
<g font-family="Liberation Sans, sans-serif" fill="#000">
<text x="119" y="90.7" font-size="33.4" textLength="75" lengthAdjust="spacingAndGlyphs">K-Co</text>
<g font-size="26" text-anchor="middle">
<text x="133" y="520.2">7700</text><text x="277.7" y="520.2">7725</text><text x="422.8" y="520.2">7750</text><text x="568" y="520.2">7775</text><text x="713.3" y="520.2">7800</text>
</g>
<text x="313.0" y="572.9" font-size="40.6" font-weight="bold" textLength="133.2" lengthAdjust="spacingAndGlyphs">Energy</text>
<text x="458.7" y="572.6" font-size="38.8" font-weight="normal" textLength="75.6" lengthAdjust="spacingAndGlyphs">(eV)</text>
<text transform="translate(86.0,489.3) rotate(-90)" font-size="34.7" font-weight="bold" textLength="354.4" lengthAdjust="spacingAndGlyphs">Normalized absorption</text>
<text transform="translate(86.0,124.4) rotate(-90)" font-size="34.7" font-weight="normal" textLength="76.3" lengthAdjust="spacingAndGlyphs">(a.u.)</text>
<text x="688.8" y="170.2" font-size="21" font-weight="bold" textLength="45.5" lengthAdjust="spacingAndGlyphs">-LHs</text>
<text x="681.4" y="241.5" font-size="21" font-weight="bold" textLength="53.3" lengthAdjust="spacingAndGlyphs">LDHs</text>
<text x="688.8" y="314.8" font-size="21" font-weight="bold" textLength="45.5" lengthAdjust="spacingAndGlyphs">-LHs</text>
<text x="677.7" y="170.2" font-size="21" textLength="10.7" lengthAdjust="spacingAndGlyphs">β</text>
<text x="676.0" y="314.8" font-size="21" textLength="12.4" lengthAdjust="spacingAndGlyphs">α</text>
</g>
<!-- panel B -->
<g clip-path="url(#clipB)">
<circle cx="286.9" cy="658.8" r="4.5" fill="url(#gO)"/><circle cx="332.2" cy="667.9" r="4.7" fill="url(#gO)"/><polygon points="309.8,644.9 286.3,662.0 287.9,670.5 321.5,675.9 330.1,671.6 317.3,646.0" fill="#f6edf1" fill-opacity="1.00"/><polygon points="317.3,646.0 321.5,675.9 330.1,671.6" fill="#eedde3" fill-opacity="1.00"/><polygon points="287.9,670.5 321.5,675.9 300.7,692.9" fill="#ada0a6" fill-opacity="1.00"/><polygon points="321.5,675.9 330.1,671.6 300.7,692.9" fill="#c2b3b9" fill-opacity="1.00"/><polyline points="311.0,643.5 287.5,660.5" stroke="#cfb2ba" stroke-width="1.1" fill="none"/><polyline points="316.0,644.0 331.0,668.5 322.0,675.5" stroke="#e9cdd4" stroke-width="1" fill="none"/><line x1="282.6" y1="668.4" x2="296.0" y2="668.2" stroke="#e8101a" stroke-width="3"/><line x1="296.0" y1="668.2" x2="307.7" y2="667.9" stroke="#f3c9d2" stroke-width="3"/><circle cx="307.7" cy="667.9" r="4.2" fill="url(#gC)"/><circle cx="313.5" cy="640.7" r="5.3" fill="url(#gO)"/><circle cx="326.3" cy="676.4" r="5.0" fill="url(#gO)"/><circle cx="300.7" cy="696.7" r="5.0" fill="url(#gO)"/><circle cx="282.6" cy="668.4" r="5.3" fill="url(#gD)"/><circle cx="286.9" cy="788.8" r="4.5" fill="url(#gO)"/><circle cx="332.2" cy="797.9" r="4.7" fill="url(#gO)"/><polygon points="309.8,774.9 286.3,792.0 287.9,800.5 321.5,805.9 330.1,801.6 317.3,776.0" fill="#f6edf1" fill-opacity="1.00"/><polygon points="317.3,776.0 321.5,805.9 330.1,801.6" fill="#eedde3" fill-opacity="1.00"/><polygon points="287.9,800.5 321.5,805.9 300.7,822.9" fill="#ada0a6" fill-opacity="1.00"/><polygon points="321.5,805.9 330.1,801.6 300.7,822.9" fill="#c2b3b9" fill-opacity="1.00"/><polyline points="311.0,773.5 287.5,790.5" stroke="#cfb2ba" stroke-width="1.1" fill="none"/><polyline points="316.0,774.0 331.0,798.5 322.0,805.5" stroke="#e9cdd4" stroke-width="1" fill="none"/><line x1="282.6" y1="798.4" x2="296.0" y2="798.2" stroke="#e8101a" stroke-width="3"/><line x1="296.0" y1="798.2" x2="307.7" y2="797.9" stroke="#f3c9d2" stroke-width="3"/><circle cx="307.7" cy="797.9" r="4.2" fill="url(#gC)"/><circle cx="313.5" cy="770.7" r="5.3" fill="url(#gO)"/><circle cx="326.3" cy="806.4" r="5.0" fill="url(#gO)"/><circle cx="300.7" cy="826.7" r="5.0" fill="url(#gO)"/><circle cx="282.6" cy="798.4" r="5.3" fill="url(#gD)"/><circle cx="286.9" cy="937.8" r="4.5" fill="url(#gO)"/><circle cx="332.2" cy="946.9" r="4.7" fill="url(#gO)"/><polygon points="309.8,923.9 286.3,941.0 287.9,949.5 321.5,954.9 330.1,950.6 317.3,925.0" fill="#f6edf1" fill-opacity="1.00"/><polygon points="317.3,925.0 321.5,954.9 330.1,950.6" fill="#eedde3" fill-opacity="1.00"/><polygon points="287.9,949.5 321.5,954.9 300.7,971.9" fill="#ada0a6" fill-opacity="1.00"/><polygon points="321.5,954.9 330.1,950.6 300.7,971.9" fill="#c2b3b9" fill-opacity="1.00"/><polyline points="311.0,922.5 287.5,939.5" stroke="#cfb2ba" stroke-width="1.1" fill="none"/><polyline points="316.0,923.0 331.0,947.5 322.0,954.5" stroke="#e9cdd4" stroke-width="1" fill="none"/><line x1="282.6" y1="947.4" x2="296.0" y2="947.2" stroke="#e8101a" stroke-width="3"/><line x1="296.0" y1="947.2" x2="307.7" y2="946.9" stroke="#f3c9d2" stroke-width="3"/><circle cx="307.7" cy="946.9" r="4.2" fill="url(#gC)"/><circle cx="313.5" cy="919.7" r="5.3" fill="url(#gO)"/><circle cx="326.3" cy="955.4" r="5.0" fill="url(#gO)"/><circle cx="300.7" cy="975.7" r="5.0" fill="url(#gO)"/><circle cx="282.6" cy="947.4" r="5.3" fill="url(#gD)"/><circle cx="413.4" cy="667.8" r="3.8" fill="url(#gO)"/><circle cx="447.0" cy="663.0" r="3.8" fill="url(#gO)"/><polygon points="432.0,647.8 413.4,667.8 416.4,673.8" fill="#e8d6dc" fill-opacity="1.00"/><polygon points="432.0,647.8 416.4,673.8 449.6,670.2" fill="#f6edf1" fill-opacity="1.00"/><polygon points="432.0,647.8 449.6,670.2 447.0,663.0" fill="#e8d6dc" fill-opacity="1.00"/><polygon points="416.4,673.8 449.6,670.2 431.6,691.2" fill="#aa9ca2" fill-opacity="1.00"/><polygon points="449.6,670.2 447.0,663.0 431.6,691.2" fill="#bfb0b6" fill-opacity="1.00"/><circle cx="431.6" cy="669.0" r="3.3" fill="url(#gC)"/><circle cx="432.0" cy="647.8" r="3.8" fill="url(#gO)"/><circle cx="431.6" cy="691.2" r="3.8" fill="url(#gO)"/><circle cx="416.4" cy="673.8" r="3.8" fill="url(#gO)"/><circle cx="449.6" cy="670.2" r="3.8" fill="url(#gO)"/><circle cx="447.0" cy="663.0" r="3.8" fill="url(#gO)"/><circle cx="481.2" cy="664.2" r="3.8" fill="url(#gO)"/><polygon points="464.0,646.2 447.0,663.0 449.6,670.2" fill="#e8d6dc" fill-opacity="1.00"/><polygon points="464.0,646.2 449.6,670.2 483.0,670.8" fill="#f6edf1" fill-opacity="1.00"/><polygon points="464.0,646.2 483.0,670.8 481.2,664.2" fill="#e8d6dc" fill-opacity="1.00"/><polygon points="449.6,670.2 483.0,670.8 466.2,689.4" fill="#aa9ca2" fill-opacity="1.00"/><polygon points="483.0,670.8 481.2,664.2 466.2,689.4" fill="#bfb0b6" fill-opacity="1.00"/><circle cx="465.0" cy="667.8" r="3.3" fill="url(#gC)"/><circle cx="464.0" cy="646.2" r="3.8" fill="url(#gO)"/><circle cx="466.2" cy="689.4" r="3.8" fill="url(#gO)"/><circle cx="449.6" cy="670.2" r="3.8" fill="url(#gO)"/><circle cx="483.0" cy="670.8" r="3.8" fill="url(#gO)"/><circle cx="387.6" cy="840.0" r="3.8" fill="url(#gO)"/><circle cx="421.0" cy="835.0" r="3.8" fill="url(#gO)"/><polygon points="406.0,820.0 387.6,840.0 391.0,846.0" fill="#e8d6dc" fill-opacity="1.00"/><polygon points="406.0,820.0 391.0,846.0 424.0,843.0" fill="#f6edf1" fill-opacity="1.00"/><polygon points="406.0,820.0 424.0,843.0 421.0,835.0" fill="#e8d6dc" fill-opacity="1.00"/><polygon points="391.0,846.0 424.0,843.0 406.0,864.0" fill="#aa9ca2" fill-opacity="1.00"/><polygon points="424.0,843.0 421.0,835.0 406.0,864.0" fill="#bfb0b6" fill-opacity="1.00"/><circle cx="406.0" cy="841.6" r="3.3" fill="url(#gC)"/><circle cx="406.0" cy="820.0" r="3.8" fill="url(#gO)"/><circle cx="406.0" cy="864.0" r="3.8" fill="url(#gO)"/><circle cx="391.0" cy="846.0" r="3.8" fill="url(#gO)"/><circle cx="424.0" cy="843.0" r="3.8" fill="url(#gO)"/><circle cx="421.0" cy="835.0" r="3.8" fill="url(#gO)"/><circle cx="455.6" cy="837.0" r="3.8" fill="url(#gO)"/><polygon points="438.4,818.4 421.0,835.0 424.0,843.0" fill="#e8d6dc" fill-opacity="1.00"/><polygon points="438.4,818.4 424.0,843.0 457.6,843.6" fill="#f6edf1" fill-opacity="1.00"/><polygon points="438.4,818.4 457.6,843.6 455.6,837.0" fill="#e8d6dc" fill-opacity="1.00"/><polygon points="424.0,843.0 457.6,843.6 440.0,862.0" fill="#aa9ca2" fill-opacity="1.00"/><polygon points="457.6,843.6 455.6,837.0 440.0,862.0" fill="#bfb0b6" fill-opacity="1.00"/><circle cx="439.0" cy="840.0" r="3.3" fill="url(#gC)"/><circle cx="438.4" cy="818.4" r="3.8" fill="url(#gO)"/><circle cx="440.0" cy="862.0" r="3.8" fill="url(#gO)"/><circle cx="424.0" cy="843.0" r="3.8" fill="url(#gO)"/><circle cx="457.6" cy="843.6" r="3.8" fill="url(#gO)"/><circle cx="448.0" cy="811.0" r="3.8" fill="url(#gO)"/><circle cx="482.0" cy="806.0" r="3.8" fill="url(#gO)"/><polygon points="466.4,791.0 448.0,811.0 451.0,817.0" fill="#c4c4c4" fill-opacity="1.00"/><polygon points="466.4,791.0 451.0,817.0 484.4,814.0" fill="#dcdcdc" fill-opacity="1.00"/><polygon points="466.4,791.0 484.4,814.0 482.0,806.0" fill="#c4c4c4" fill-opacity="1.00"/><polygon points="451.0,817.0 484.4,814.0 466.4,834.4" fill="#8c8c8c" fill-opacity="1.00"/><polygon points="484.4,814.0 482.0,806.0 466.4,834.4" fill="#a0a0a0" fill-opacity="1.00"/><circle cx="466.4" cy="812.0" r="3.3" fill="url(#gK)"/><circle cx="466.4" cy="791.0" r="3.8" fill="url(#gO)"/><circle cx="466.4" cy="834.4" r="3.8" fill="url(#gO)"/><circle cx="451.0" cy="817.0" r="3.8" fill="url(#gO)"/><circle cx="484.4" cy="814.0" r="3.8" fill="url(#gO)"/><circle cx="482.0" cy="806.0" r="3.8" fill="url(#gO)"/><circle cx="516.0" cy="807.6" r="3.8" fill="url(#gO)"/><polygon points="499.0,789.0 482.0,806.0 484.4,814.0" fill="#e8d6dc" fill-opacity="1.00"/><polygon points="499.0,789.0 484.4,814.0 518.0,814.0" fill="#f6edf1" fill-opacity="1.00"/><polygon points="499.0,789.0 518.0,814.0 516.0,807.6" fill="#e8d6dc" fill-opacity="1.00"/><polygon points="484.4,814.0 518.0,814.0 501.0,833.0" fill="#aa9ca2" fill-opacity="1.00"/><polygon points="518.0,814.0 516.0,807.6 501.0,833.0" fill="#bfb0b6" fill-opacity="1.00"/><circle cx="500.0" cy="810.4" r="3.3" fill="url(#gC)"/><circle cx="499.0" cy="789.0" r="3.8" fill="url(#gO)"/><circle cx="501.0" cy="833.0" r="3.8" fill="url(#gO)"/><circle cx="484.4" cy="814.0" r="3.8" fill="url(#gO)"/><circle cx="518.0" cy="814.0" r="3.8" fill="url(#gO)"/><circle cx="384.4" cy="943.5" r="3.8" fill="url(#gO)"/><circle cx="418.5" cy="938.0" r="3.8" fill="url(#gO)"/><polygon points="403.1,922.6 384.4,943.5 387.7,950.1" fill="#e8d6dc" fill-opacity="1.00"/><polygon points="403.1,922.6 387.7,950.1 420.7,945.7" fill="#f6edf1" fill-opacity="1.00"/><polygon points="403.1,922.6 420.7,945.7 418.5,938.0" fill="#e8d6dc" fill-opacity="1.00"/><polygon points="387.7,950.1 420.7,945.7 403.1,966.6" fill="#aa9ca2" fill-opacity="1.00"/><polygon points="420.7,945.7 418.5,938.0 403.1,966.6" fill="#bfb0b6" fill-opacity="1.00"/><circle cx="403.1" cy="944.6" r="3.3" fill="url(#gC)"/><circle cx="403.1" cy="922.6" r="3.8" fill="url(#gO)"/><circle cx="403.1" cy="966.6" r="3.8" fill="url(#gO)"/><circle cx="387.7" cy="950.1" r="3.8" fill="url(#gO)"/><circle cx="420.7" cy="945.7" r="3.8" fill="url(#gO)"/><circle cx="418.5" cy="938.0" r="3.8" fill="url(#gO)"/><circle cx="452.6" cy="939.1" r="3.8" fill="url(#gO)"/><polygon points="435.4,921.5 418.5,938.0 420.7,945.7" fill="#e8d6dc" fill-opacity="1.00"/><polygon points="435.4,921.5 420.7,945.7 454.4,946.4" fill="#f6edf1" fill-opacity="1.00"/><polygon points="435.4,921.5 454.4,946.4 452.6,939.1" fill="#e8d6dc" fill-opacity="1.00"/><polygon points="420.7,945.7 454.4,946.4 437.6,964.4" fill="#aa9ca2" fill-opacity="1.00"/><polygon points="454.4,946.4 452.6,939.1 437.6,964.4" fill="#bfb0b6" fill-opacity="1.00"/><circle cx="436.1" cy="942.8" r="3.3" fill="url(#gC)"/><circle cx="435.4" cy="921.5" r="3.8" fill="url(#gO)"/><circle cx="437.6" cy="964.4" r="3.8" fill="url(#gO)"/><circle cx="420.7" cy="945.7" r="3.8" fill="url(#gO)"/><circle cx="454.4" cy="946.4" r="3.8" fill="url(#gO)"/><circle cx="479.4" cy="950.8" r="3.6" fill="url(#gO)"/><polygon points="461.0,924.8 464.7,955.6 479.4,950.8" fill="#9aa2d4" fill-opacity="1.00"/><polygon points="461.0,924.8 479.4,950.8 491.1,935.8" fill="#aab2e2" fill-opacity="1.00"/><polygon points="461.0,924.8 464.7,955.6 491.1,935.8" fill="#b3bae6" fill-opacity="0.85"/><circle cx="475.0" cy="943.5" r="3.5" fill="url(#gB)"/><circle cx="464.7" cy="955.6" r="3.8" fill="url(#gO)"/><circle cx="491.1" cy="935.8" r="3.8" fill="url(#gO)"/><circle cx="461.0" cy="924.8" r="4.2" fill="url(#gG)"/><circle cx="507.0" cy="931.0" r="3.6" fill="url(#gO)"/><polygon points="516.4,917.1 491.1,935.8 516.4,942.0" fill="#f0e2e8" fill-opacity="1.00"/><polygon points="516.4,917.1 516.4,942.0 531.4,939.1" fill="#e9d3da" fill-opacity="1.00"/><polygon points="491.1,935.8 516.4,942.0 505.8,957.8" fill="#ab9ba1" fill-opacity="1.00"/><polygon points="516.4,942.0 531.4,939.1 505.8,957.8" fill="#c2b1b7" fill-opacity="1.00"/><circle cx="510.9" cy="938.0" r="3.3" fill="url(#gC)"/><circle cx="516.4" cy="917.1" r="3.8" fill="url(#gO)"/><circle cx="505.8" cy="957.8" r="3.8" fill="url(#gO)"/><circle cx="516.4" cy="942.0" r="3.8" fill="url(#gO)"/><circle cx="531.4" cy="939.1" r="3.8" fill="url(#gO)"/><circle cx="207.1" cy="980.4" r="4.5" fill="url(#gO)"/><polygon points="225.8,952.7 209.2,982.5 213.5,993.2 225.2,985.0" fill="#b4b9dc" fill-opacity="1.00"/><polygon points="225.8,952.7 225.2,985.0 213.5,993.2 247.6,988.9" fill="#9fa4cc" fill-opacity="1.00"/><line x1="214.5" y1="995.3" x2="225.2" y2="980.4" stroke="#c83040" stroke-width="2.6"/><circle cx="225.2" cy="980.4" r="4.3" fill="url(#gB)"/><circle cx="252.3" cy="986.8" r="5.0" fill="url(#gO)"/><circle cx="225.8" cy="948.4" r="6.2" fill="url(#gG)"/><circle cx="214.5" cy="995.3" r="5.3" fill="url(#gD)"/>
<g fill="#fff" stroke="#EEC10E" stroke-width="2.20"><circle cx="103.4" cy="767.0" r="7.4"/><circle cx="107.3" cy="766.9" r="7.4"/><circle cx="111.2" cy="766.9" r="7.4"/><circle cx="115.2" cy="766.9" r="7.4"/><circle cx="119.1" cy="766.8" r="7.4"/><circle cx="123.0" cy="766.8" r="7.4"/><circle cx="126.9" cy="766.7" r="7.4"/><circle cx="130.8" cy="766.7" r="7.4"/><circle cx="134.7" cy="766.6" r="7.4"/><circle cx="138.7" cy="766.5" r="7.4"/><circle cx="142.6" cy="766.4" r="7.4"/><circle cx="146.5" cy="766.3" r="7.4"/><circle cx="150.4" cy="766.2" r="7.4"/><circle cx="154.3" cy="766.0" r="7.4"/><circle cx="158.2" cy="765.8" r="7.4"/><circle cx="162.2" cy="765.5" r="7.4"/><circle cx="166.1" cy="765.0" r="7.4"/><circle cx="170.0" cy="764.3" r="7.4"/><circle cx="173.9" cy="763.3" r="7.4"/><circle cx="177.8" cy="761.5" r="7.4"/><circle cx="181.7" cy="758.9" r="7.4"/><circle cx="185.7" cy="755.6" r="7.4"/><circle cx="189.6" cy="751.7" r="7.4"/><circle cx="193.5" cy="748.6" r="7.4"/><circle cx="197.4" cy="746.5" r="7.4"/><circle cx="201.3" cy="745.0" r="7.4"/><circle cx="205.2" cy="743.9" r="7.4"/><circle cx="209.2" cy="743.2" r="7.4"/><circle cx="213.1" cy="742.8" r="7.4"/><circle cx="217.0" cy="742.5" r="7.4"/><circle cx="220.9" cy="742.2" r="7.4"/><circle cx="224.8" cy="742.0" r="7.4"/><circle cx="228.7" cy="741.8" r="7.4"/><circle cx="232.7" cy="741.4" r="7.4"/><circle cx="236.6" cy="740.7" r="7.4"/><circle cx="240.5" cy="739.2" r="7.4"/><circle cx="244.4" cy="736.9" r="7.4"/><circle cx="248.3" cy="734.7" r="7.4"/><circle cx="252.2" cy="732.2" r="7.4"/><circle cx="256.2" cy="729.8" r="7.4"/><circle cx="260.1" cy="727.4" r="7.4"/><circle cx="264.0" cy="724.9" r="7.4"/><circle cx="267.9" cy="722.4" r="7.4"/><circle cx="271.8" cy="720.1" r="7.4"/><circle cx="275.7" cy="718.1" r="7.4"/><circle cx="279.7" cy="716.5" r="7.4"/><circle cx="283.6" cy="715.2" r="7.4"/><circle cx="287.5" cy="714.1" r="7.4"/><circle cx="291.4" cy="713.3" r="7.4"/><circle cx="295.3" cy="712.7" r="7.4"/><circle cx="299.2" cy="712.3" r="7.4"/><circle cx="303.2" cy="712.4" r="7.4"/><circle cx="307.1" cy="713.5" r="7.4"/><circle cx="311.0" cy="715.8" r="7.4"/><circle cx="314.9" cy="719.1" r="7.4"/><circle cx="318.8" cy="723.4" r="7.4"/><circle cx="322.8" cy="728.1" r="7.4"/><circle cx="326.7" cy="733.5" r="7.4"/><circle cx="330.6" cy="739.2" r="7.4"/><circle cx="334.5" cy="744.7" r="7.4"/><circle cx="338.4" cy="750.4" r="7.4"/><circle cx="342.3" cy="755.6" r="7.4"/><circle cx="346.3" cy="760.6" r="7.4"/><circle cx="350.2" cy="765.1" r="7.4"/><circle cx="354.1" cy="768.4" r="7.4"/><circle cx="358.0" cy="770.3" r="7.4"/><circle cx="361.9" cy="771.2" r="7.4"/><circle cx="365.8" cy="771.6" r="7.4"/><circle cx="369.8" cy="771.5" r="7.4"/><circle cx="373.7" cy="770.4" r="7.4"/><circle cx="377.6" cy="768.2" r="7.4"/><circle cx="381.5" cy="765.0" r="7.4"/><circle cx="385.4" cy="761.4" r="7.4"/><circle cx="389.3" cy="757.7" r="7.4"/><circle cx="393.3" cy="753.7" r="7.4"/><circle cx="397.2" cy="749.6" r="7.4"/><circle cx="401.1" cy="745.3" r="7.4"/><circle cx="405.0" cy="741.0" r="7.4"/><circle cx="408.9" cy="736.6" r="7.4"/><circle cx="412.8" cy="732.3" r="7.4"/><circle cx="416.8" cy="727.9" r="7.4"/><circle cx="420.7" cy="723.4" r="7.4"/><circle cx="424.6" cy="719.0" r="7.4"/><circle cx="428.5" cy="715.1" r="7.4"/><circle cx="432.4" cy="711.9" r="7.4"/><circle cx="436.3" cy="709.3" r="7.4"/><circle cx="440.3" cy="707.5" r="7.4"/><circle cx="444.2" cy="706.4" r="7.4"/><circle cx="448.1" cy="706.4" r="7.4"/><circle cx="452.0" cy="707.6" r="7.4"/><circle cx="455.9" cy="709.8" r="7.4"/><circle cx="459.8" cy="712.8" r="7.4"/><circle cx="463.8" cy="716.4" r="7.4"/><circle cx="467.7" cy="720.8" r="7.4"/><circle cx="471.6" cy="725.6" r="7.4"/><circle cx="475.5" cy="731.0" r="7.4"/><circle cx="479.4" cy="736.7" r="7.4"/><circle cx="483.3" cy="741.8" r="7.4"/><circle cx="487.3" cy="746.5" r="7.4"/><circle cx="491.2" cy="750.6" r="7.4"/><circle cx="495.1" cy="753.6" r="7.4"/><circle cx="499.0" cy="755.7" r="7.4"/><circle cx="502.9" cy="757.1" r="7.4"/><circle cx="506.9" cy="757.7" r="7.4"/><circle cx="510.8" cy="757.8" r="7.4"/><circle cx="514.7" cy="758.5" r="7.4"/><circle cx="518.6" cy="759.8" r="7.4"/><circle cx="522.5" cy="761.6" r="7.4"/><circle cx="526.4" cy="765.1" r="7.4"/><circle cx="530.4" cy="771.3" r="7.4"/><circle cx="534.3" cy="769.4" r="7.4"/><circle cx="538.2" cy="765.8" r="7.4"/><circle cx="542.1" cy="764.3" r="7.4"/><circle cx="546.0" cy="763.2" r="7.4"/><circle cx="549.9" cy="762.5" r="7.4"/><circle cx="553.9" cy="762.0" r="7.4"/><circle cx="557.8" cy="761.9" r="7.4"/><circle cx="561.7" cy="762.2" r="7.4"/><circle cx="565.6" cy="762.7" r="7.4"/><circle cx="569.5" cy="763.4" r="7.4"/><circle cx="573.4" cy="764.0" r="7.4"/><circle cx="577.4" cy="764.6" r="7.4"/><circle cx="581.3" cy="765.1" r="7.4"/><circle cx="585.2" cy="765.4" r="7.4"/><circle cx="589.1" cy="765.8" r="7.4"/><circle cx="593.0" cy="766.2" r="7.4"/><circle cx="596.9" cy="766.5" r="7.4"/><circle cx="600.9" cy="767.0" r="7.4"/><circle cx="604.8" cy="767.6" r="7.4"/><circle cx="608.7" cy="768.3" r="7.4"/><circle cx="612.6" cy="768.9" r="7.4"/><circle cx="616.5" cy="769.3" r="7.4"/><circle cx="620.4" cy="769.4" r="7.4"/><circle cx="624.4" cy="768.9" r="7.4"/><circle cx="628.3" cy="768.1" r="7.4"/><circle cx="632.2" cy="767.1" r="7.4"/><circle cx="636.1" cy="766.1" r="7.4"/><circle cx="640.0" cy="765.4" r="7.4"/><circle cx="643.9" cy="764.9" r="7.4"/><circle cx="647.9" cy="764.5" r="7.4"/><circle cx="651.8" cy="764.3" r="7.4"/><circle cx="655.7" cy="764.1" r="7.4"/><circle cx="659.6" cy="764.0" r="7.4"/><circle cx="663.5" cy="764.0" r="7.4"/><circle cx="667.4" cy="764.2" r="7.4"/><circle cx="671.4" cy="764.5" r="7.4"/><circle cx="675.3" cy="764.8" r="7.4"/><circle cx="679.2" cy="765.0" r="7.4"/><circle cx="683.1" cy="765.1" r="7.4"/><circle cx="687.0" cy="765.1" r="7.4"/><circle cx="690.9" cy="765.2" r="7.4"/><circle cx="694.9" cy="765.1" r="7.4"/><circle cx="698.8" cy="765.0" r="7.4"/><circle cx="702.7" cy="764.9" r="7.4"/><circle cx="706.6" cy="764.5" r="7.4"/><circle cx="710.5" cy="764.2" r="7.4"/><circle cx="714.5" cy="763.8" r="7.4"/><circle cx="718.4" cy="763.5" r="7.4"/><circle cx="722.3" cy="763.3" r="7.4"/><circle cx="726.2" cy="763.2" r="7.4"/><circle cx="730.1" cy="763.1" r="7.4"/><circle cx="734.0" cy="763.1" r="7.4"/><circle cx="738.0" cy="763.0" r="7.4"/><circle cx="741.9" cy="763.0" r="7.4"/></g>
<path d="M103.4,762.0 L105.0,762.0 L106.4,762.0 L107.9,762.0 L109.4,762.0 L110.9,762.0 L112.4,762.0 L113.9,762.0 L115.4,762.0 L116.9,762.0 L118.4,762.0 L119.9,761.9 L121.4,761.9 L122.9,761.9 L124.4,761.9 L125.9,761.9 L127.4,761.9 L128.9,761.9 L130.4,761.9 L131.9,761.9 L133.4,761.9 L134.9,761.9 L136.4,761.8 L137.9,761.8 L139.4,761.8 L140.9,761.8 L142.4,761.7 L143.9,761.7 L145.4,761.7 L146.9,761.6 L148.4,761.6 L149.9,761.5 L151.3,761.4 L152.8,761.3 L154.3,761.2 L155.8,761.1 L157.3,761.0 L158.8,760.8 L160.3,760.6 L161.8,760.4 L163.3,760.2 L164.7,760.0 L166.2,759.7 L167.7,759.4 L169.2,759.1 L170.6,758.8 L172.1,758.5 L173.6,758.3 L175.0,757.9 L176.5,757.6 L178.0,757.3 L179.4,757.0 L180.9,756.6 L182.3,756.3 L183.8,755.9 L185.2,755.5 L186.7,755.2 L188.1,754.8 L189.6,754.4 L191.0,754.0 L192.5,753.7 L193.9,753.3 L195.4,752.9 L196.8,752.5 L198.3,752.1 L199.7,751.7 L201.2,751.3 L202.6,750.9 L204.1,750.5 L205.5,750.0 L206.9,749.6 L208.4,749.2 L209.8,748.8 L211.3,748.4 L212.7,748.0 L214.1,747.6 L215.6,747.2 L217.0,746.8 L218.5,746.4 L219.9,746.1 L221.4,745.7 L222.9,745.4 L224.3,745.0 L225.8,744.6 L227.2,744.2 L228.6,743.8 L230.1,743.4 L231.5,742.9 L232.9,742.4 L234.3,741.9 L235.7,741.3 L237.1,740.7 L238.4,740.0 L239.7,739.4 L241.1,738.7 L242.4,737.9 L243.7,737.2 L245.0,736.4 L246.3,735.7 L247.6,734.9 L248.8,734.1 L250.1,733.4 L251.4,732.6 L252.7,731.8 L254.0,731.1 L255.3,730.3 L256.6,729.6 L257.9,728.8 L259.2,728.1 L260.5,727.3 L261.8,726.6 L263.1,725.8 L264.3,725.0 L265.6,724.3 L266.9,723.5 L268.2,722.8 L269.5,722.0 L270.8,721.3 L272.1,720.6 L273.5,719.9 L274.8,719.2 L276.2,718.5 L277.5,717.9 L278.9,717.3 L280.3,716.8 L281.7,716.2 L283.1,715.7 L284.5,715.1 L285.9,714.6 L287.3,714.1 L288.7,713.7 L290.2,713.2 L291.6,712.8 L293.0,712.4 L294.5,712.1 L296.0,711.8 L297.4,711.5 L298.9,711.4 L300.4,711.3 L301.9,711.4 L303.4,711.7 L304.8,712.1 L306.2,712.7 L307.5,713.4 L308.7,714.2 L310.0,715.1 L311.2,716.0 L312.4,716.9 L313.5,717.9 L314.6,718.9 L315.7,719.9 L316.7,721.0 L317.7,722.1 L318.7,723.2 L319.7,724.4 L320.6,725.5 L321.6,726.7 L322.5,727.9 L323.4,729.0 L324.3,730.2 L325.2,731.5 L326.1,732.7 L326.9,733.9 L327.8,735.1 L328.6,736.4 L329.5,737.6 L330.3,738.8 L331.2,740.1 L332.1,741.3 L332.9,742.5 L333.8,743.7 L334.7,745.0 L335.5,746.2 L336.4,747.4 L337.2,748.7 L338.1,749.9 L339.0,751.1 L339.8,752.3 L340.7,753.5 L341.6,754.7 L342.6,755.9 L343.5,757.1 L344.4,758.3 L345.3,759.4 L346.3,760.6 L347.2,761.8 L348.2,762.9 L349.2,764.0 L350.2,765.1 L351.3,766.2 L352.4,767.1 L353.6,768.0 L354.9,768.8 L356.2,769.5 L357.6,770.1 L359.0,770.6 L360.4,770.9 L361.9,771.2 L363.4,771.4 L364.9,771.5 L366.4,771.6 L367.9,771.6 L369.4,771.4 L370.8,771.2 L372.3,770.8 L373.7,770.4 L375.1,769.7 L376.4,769.0 L377.6,768.2 L378.8,767.3 L380.0,766.3 L381.1,765.4 L382.2,764.4 L383.3,763.3 L384.4,762.3 L385.5,761.3 L386.6,760.3 L387.7,759.3 L388.8,758.2 L389.8,757.2 L390.9,756.1 L391.9,755.0 L393.0,754.0 L394.0,752.9 L395.1,751.8 L396.1,750.7 L397.1,749.6 L398.1,748.5 L399.2,747.4 L400.2,746.3 L401.2,745.2 L402.2,744.1 L403.2,743.0 L404.2,741.9 L405.2,740.8 L406.2,739.6 L407.2,738.5 L408.2,737.4 L409.2,736.3 L410.2,735.2 L411.2,734.1 L412.2,733.0 L413.2,731.8 L414.2,730.7 L415.2,729.6 L416.2,728.5 L417.2,727.4 L418.2,726.3 L419.2,725.1 L420.2,724.0 L421.2,722.9 L422.2,721.7 L423.1,720.6 L424.1,719.5 L425.2,718.4 L426.2,717.3 L427.3,716.3 L428.4,715.3 L429.5,714.3 L430.7,713.3 L431.8,712.4 L433.0,711.5 L434.2,710.6 L435.5,709.8 L436.8,709.1 L438.1,708.4 L439.5,707.8 L440.9,707.3 L442.4,706.9 L443.8,706.5 L445.3,706.4 L446.8,706.3 L448.3,706.5 L449.7,706.8 L451.1,707.3 L452.5,707.9 L453.8,708.6 L455.1,709.3 L456.4,710.2 L457.6,711.0 L458.8,711.9 L459.9,712.9 L461.1,713.8 L462.2,714.9 L463.3,715.9 L464.3,717.0 L465.3,718.1 L466.3,719.2 L467.3,720.3 L468.3,721.5 L469.2,722.6 L470.2,723.8 L471.1,725.0 L472.0,726.1 L472.9,727.3 L473.8,728.5 L474.7,729.8 L475.5,731.0 L476.4,732.2 L477.2,733.5 L478.1,734.7 L478.9,735.9 L479.8,737.2 L480.7,738.4 L481.6,739.6 L482.5,740.7 L483.4,741.9 L484.4,743.1 L485.3,744.2 L486.3,745.4 L487.3,746.5 L488.3,747.6 L489.3,748.7 L490.4,749.8 L491.5,750.8 L492.6,751.8 L493.8,752.7 L495.0,753.5 L496.3,754.2 L497.7,754.9 L499.0,755.5 L500.4,756.1 L501.8,756.6 L503.2,757.2 L504.6,757.7 L506.1,758.1 L507.5,758.5 L509.0,758.9 L510.4,759.3 L511.9,759.7 L513.3,760.2 L514.7,760.7 L516.1,761.3 L517.4,761.9 L518.8,762.5 L520.1,763.2 L521.4,763.9 L522.8,764.6 L524.1,765.3 L525.3,766.2 L526.5,767.0 L527.7,768.0 L528.9,768.9 L530.0,769.9 L531.2,770.8 L532.4,771.7 L533.7,772.4 L535.0,773.0 L536.5,773.2 L538.0,773.2 L539.4,773.0 L540.9,772.6 L542.3,772.2 L543.7,771.7 L545.2,771.3 L546.6,771.0 L548.1,770.6 L549.5,770.3 L551.0,769.9 L552.5,769.6 L553.9,769.3 L555.4,769.1 L556.9,768.9 L558.4,768.9 L559.9,768.9 L561.4,769.0 L562.9,769.2 L564.3,769.4 L565.8,769.7 L567.3,770.1 L568.7,770.5 L570.1,771.1 L571.4,771.7 L572.8,772.4 L574.1,773.0 L575.5,773.6 L576.9,774.0 L578.4,774.2 L579.9,774.2 L581.3,774.0 L582.8,773.6 L584.2,773.2 L585.7,772.8 L587.1,772.5 L588.6,772.1 L590.1,771.9 L591.5,771.6 L593.0,771.3 L594.5,771.1 L596.0,771.0 L597.5,770.9 L599.0,771.0 L600.5,771.1 L601.9,771.3 L603.4,771.6 L604.9,771.9 L606.3,772.3 L607.8,772.7 L609.2,773.1 L610.7,773.4 L612.1,773.8 L613.6,774.1 L615.1,774.4 L616.5,774.6 L618.0,774.8 L619.5,774.9 L621.0,775.0 L622.5,774.9 L624.0,774.7 L625.5,774.5 L627.0,774.3 L628.4,774.0 L629.9,773.6 L631.4,773.3 L632.8,773.0 L634.3,772.7 L635.8,772.5 L637.3,772.2 L638.7,772.1 L640.2,772.0 L641.7,772.0 L643.2,772.1 L644.7,772.2 L646.2,772.3 L647.7,772.5 L649.2,772.7 L650.7,772.9 L652.2,773.2 L653.6,773.4 L655.1,773.6 L656.6,773.7 L658.1,773.9 L659.6,774.0 L661.1,774.0 L662.6,774.0 L664.1,774.0 L665.6,774.0 L667.1,774.0 L668.6,773.9 L670.1,773.9 L671.6,773.8 L673.1,773.8 L674.6,773.7 L676.1,773.7 L677.6,773.6 L679.1,773.6 L680.6,773.6 L682.1,773.6 L683.6,773.6 L685.1,773.6 L686.6,773.7 L688.1,773.7 L689.6,773.7 L691.1,773.8 L692.6,773.8 L694.1,773.9 L695.5,773.9 L697.0,773.9 L698.5,774.0 L700.0,774.0 L701.5,774.0 L703.0,774.1 L704.5,774.1 L706.0,774.1 L707.5,774.2 L709.0,774.2 L710.5,774.2 L712.0,774.3 L713.5,774.3 L715.0,774.3 L716.5,774.4 L718.0,774.4 L719.5,774.4 L721.0,774.4 L722.5,774.4 L724.0,774.4 L725.5,774.4 L727.0,774.4 L728.5,774.4 L730.0,774.4 L731.5,774.4 L733.0,774.4 L734.5,774.4 L736.0,774.4 L737.5,774.4 L739.0,774.4 L740.4,774.4 L742.0,774.4" fill="none" stroke="#2a2a2a" stroke-width="1.3"/>
<g fill="#fff" stroke="#F5771D" stroke-width="2.20"><circle cx="103.4" cy="905.3" r="7.4"/><circle cx="107.3" cy="905.3" r="7.4"/><circle cx="111.2" cy="905.2" r="7.4"/><circle cx="115.2" cy="905.2" r="7.4"/><circle cx="119.1" cy="905.2" r="7.4"/><circle cx="123.0" cy="905.1" r="7.4"/><circle cx="126.9" cy="905.0" r="7.4"/><circle cx="130.8" cy="904.9" r="7.4"/><circle cx="134.7" cy="904.8" r="7.4"/><circle cx="138.7" cy="904.7" r="7.4"/><circle cx="142.6" cy="904.6" r="7.4"/><circle cx="146.5" cy="904.5" r="7.4"/><circle cx="150.4" cy="904.4" r="7.4"/><circle cx="154.3" cy="904.2" r="7.4"/><circle cx="158.2" cy="904.0" r="7.4"/><circle cx="162.2" cy="903.6" r="7.4"/><circle cx="166.1" cy="903.1" r="7.4"/><circle cx="170.0" cy="901.9" r="7.4"/><circle cx="173.9" cy="899.4" r="7.4"/><circle cx="177.8" cy="896.9" r="7.4"/><circle cx="181.7" cy="894.0" r="7.4"/><circle cx="185.7" cy="891.3" r="7.4"/><circle cx="189.6" cy="889.0" r="7.4"/><circle cx="193.5" cy="887.0" r="7.4"/><circle cx="197.4" cy="885.3" r="7.4"/><circle cx="201.3" cy="884.0" r="7.4"/><circle cx="205.2" cy="883.1" r="7.4"/><circle cx="209.2" cy="882.6" r="7.4"/><circle cx="213.1" cy="882.3" r="7.4"/><circle cx="217.0" cy="882.0" r="7.4"/><circle cx="220.9" cy="881.7" r="7.4"/><circle cx="224.8" cy="881.3" r="7.4"/><circle cx="228.7" cy="880.6" r="7.4"/><circle cx="232.7" cy="879.3" r="7.4"/><circle cx="236.6" cy="877.1" r="7.4"/><circle cx="240.5" cy="875.0" r="7.4"/><circle cx="244.4" cy="872.8" r="7.4"/><circle cx="248.3" cy="870.6" r="7.4"/><circle cx="252.2" cy="868.5" r="7.4"/><circle cx="256.2" cy="866.3" r="7.4"/><circle cx="260.1" cy="864.1" r="7.4"/><circle cx="264.0" cy="861.7" r="7.4"/><circle cx="267.9" cy="859.4" r="7.4"/><circle cx="271.8" cy="857.0" r="7.4"/><circle cx="275.7" cy="854.6" r="7.4"/><circle cx="279.7" cy="852.2" r="7.4"/><circle cx="283.6" cy="850.1" r="7.4"/><circle cx="287.5" cy="848.1" r="7.4"/><circle cx="291.4" cy="846.5" r="7.4"/><circle cx="295.3" cy="845.2" r="7.4"/><circle cx="299.2" cy="844.5" r="7.4"/><circle cx="303.2" cy="844.7" r="7.4"/><circle cx="307.1" cy="845.5" r="7.4"/><circle cx="311.0" cy="847.5" r="7.4"/><circle cx="314.9" cy="850.6" r="7.4"/><circle cx="318.8" cy="854.7" r="7.4"/><circle cx="322.8" cy="859.9" r="7.4"/><circle cx="326.7" cy="865.7" r="7.4"/><circle cx="330.6" cy="871.6" r="7.4"/><circle cx="334.5" cy="877.5" r="7.4"/><circle cx="338.4" cy="883.1" r="7.4"/><circle cx="342.3" cy="888.3" r="7.4"/><circle cx="346.3" cy="893.5" r="7.4"/><circle cx="350.2" cy="898.6" r="7.4"/><circle cx="354.1" cy="902.8" r="7.4"/><circle cx="358.0" cy="906.0" r="7.4"/><circle cx="361.9" cy="907.8" r="7.4"/><circle cx="365.8" cy="908.2" r="7.4"/><circle cx="369.8" cy="908.0" r="7.4"/><circle cx="373.7" cy="907.8" r="7.4"/><circle cx="377.6" cy="907.4" r="7.4"/><circle cx="381.5" cy="907.0" r="7.4"/><circle cx="385.4" cy="907.2" r="7.4"/><circle cx="389.3" cy="907.6" r="7.4"/><circle cx="393.3" cy="907.0" r="7.4"/><circle cx="397.2" cy="905.6" r="7.4"/><circle cx="401.1" cy="902.9" r="7.4"/><circle cx="405.0" cy="899.1" r="7.4"/><circle cx="408.9" cy="895.2" r="7.4"/><circle cx="412.8" cy="891.7" r="7.4"/><circle cx="416.8" cy="888.4" r="7.4"/><circle cx="420.7" cy="885.5" r="7.4"/><circle cx="424.6" cy="883.4" r="7.4"/><circle cx="428.5" cy="881.9" r="7.4"/><circle cx="432.4" cy="880.7" r="7.4"/><circle cx="436.3" cy="879.4" r="7.4"/><circle cx="440.3" cy="878.4" r="7.4"/><circle cx="444.2" cy="877.9" r="7.4"/><circle cx="448.1" cy="877.9" r="7.4"/><circle cx="452.0" cy="878.4" r="7.4"/><circle cx="455.9" cy="879.7" r="7.4"/><circle cx="459.8" cy="881.7" r="7.4"/><circle cx="463.8" cy="883.9" r="7.4"/><circle cx="467.7" cy="886.1" r="7.4"/><circle cx="471.6" cy="888.4" r="7.4"/><circle cx="475.5" cy="890.9" r="7.4"/><circle cx="479.4" cy="893.9" r="7.4"/><circle cx="483.3" cy="896.7" r="7.4"/><circle cx="487.3" cy="898.9" r="7.4"/><circle cx="491.2" cy="900.5" r="7.4"/><circle cx="495.1" cy="901.8" r="7.4"/><circle cx="499.0" cy="902.9" r="7.4"/><circle cx="502.9" cy="903.7" r="7.4"/><circle cx="506.9" cy="904.3" r="7.4"/><circle cx="510.8" cy="904.6" r="7.4"/><circle cx="514.7" cy="904.7" r="7.4"/><circle cx="518.6" cy="904.7" r="7.4"/><circle cx="522.5" cy="904.6" r="7.4"/><circle cx="526.4" cy="904.7" r="7.4"/><circle cx="530.4" cy="905.3" r="7.4"/><circle cx="534.3" cy="906.1" r="7.4"/><circle cx="538.2" cy="907.0" r="7.4"/><circle cx="542.1" cy="907.8" r="7.4"/><circle cx="546.0" cy="908.5" r="7.4"/><circle cx="549.9" cy="908.9" r="7.4"/><circle cx="553.9" cy="909.0" r="7.4"/><circle cx="557.8" cy="909.0" r="7.4"/><circle cx="561.7" cy="908.8" r="7.4"/><circle cx="565.6" cy="908.5" r="7.4"/><circle cx="569.5" cy="908.3" r="7.4"/><circle cx="573.4" cy="908.2" r="7.4"/><circle cx="577.4" cy="908.1" r="7.4"/><circle cx="581.3" cy="908.1" r="7.4"/><circle cx="585.2" cy="908.2" r="7.4"/><circle cx="589.1" cy="908.4" r="7.4"/><circle cx="593.0" cy="908.5" r="7.4"/><circle cx="596.9" cy="908.7" r="7.4"/><circle cx="600.9" cy="908.8" r="7.4"/><circle cx="604.8" cy="908.9" r="7.4"/><circle cx="608.7" cy="909.1" r="7.4"/><circle cx="612.6" cy="909.3" r="7.4"/><circle cx="616.5" cy="909.5" r="7.4"/><circle cx="620.4" cy="909.6" r="7.4"/><circle cx="624.4" cy="909.7" r="7.4"/><circle cx="628.3" cy="909.7" r="7.4"/><circle cx="632.2" cy="909.6" r="7.4"/><circle cx="636.1" cy="909.5" r="7.4"/><circle cx="640.0" cy="909.3" r="7.4"/><circle cx="643.9" cy="909.1" r="7.4"/><circle cx="647.9" cy="908.8" r="7.4"/><circle cx="651.8" cy="908.4" r="7.4"/><circle cx="655.7" cy="908.0" r="7.4"/><circle cx="659.6" cy="907.5" r="7.4"/><circle cx="663.5" cy="907.0" r="7.4"/><circle cx="667.4" cy="906.4" r="7.4"/><circle cx="671.4" cy="905.7" r="7.4"/><circle cx="675.3" cy="905.0" r="7.4"/><circle cx="679.2" cy="904.4" r="7.4"/><circle cx="683.1" cy="903.9" r="7.4"/><circle cx="687.0" cy="903.5" r="7.4"/><circle cx="690.9" cy="903.1" r="7.4"/><circle cx="694.9" cy="902.8" r="7.4"/><circle cx="698.8" cy="902.5" r="7.4"/><circle cx="702.7" cy="902.5" r="7.4"/><circle cx="706.6" cy="902.6" r="7.4"/><circle cx="710.5" cy="902.9" r="7.4"/><circle cx="714.5" cy="903.4" r="7.4"/><circle cx="718.4" cy="904.1" r="7.4"/><circle cx="722.3" cy="904.8" r="7.4"/><circle cx="726.2" cy="905.6" r="7.4"/><circle cx="730.1" cy="906.4" r="7.4"/><circle cx="734.0" cy="907.3" r="7.4"/><circle cx="738.0" cy="908.2" r="7.4"/><circle cx="741.9" cy="909.2" r="7.4"/></g>
<path d="M103.4,900.6 L105.0,900.6 L106.4,900.6 L107.9,900.5 L109.4,900.5 L110.9,900.5 L112.4,900.5 L113.9,900.5 L115.4,900.4 L116.9,900.4 L118.4,900.4 L119.9,900.4 L121.4,900.3 L122.9,900.3 L124.4,900.3 L125.9,900.2 L127.4,900.2 L128.9,900.1 L130.4,900.1 L131.8,900.0 L133.3,899.9 L134.8,899.9 L136.3,899.8 L137.8,899.7 L139.3,899.7 L140.8,899.6 L142.3,899.5 L143.8,899.4 L145.3,899.4 L146.8,899.3 L148.3,899.2 L149.8,899.1 L151.3,899.0 L152.8,898.9 L154.3,898.8 L155.8,898.7 L157.3,898.6 L158.8,898.4 L160.2,898.3 L161.7,898.1 L163.2,898.0 L164.7,897.8 L166.2,897.6 L167.7,897.4 L169.2,897.1 L170.6,896.9 L172.1,896.6 L173.6,896.3 L175.0,896.0 L176.5,895.7 L178.0,895.3 L179.4,895.0 L180.9,894.6 L182.3,894.3 L183.8,894.0 L185.2,893.6 L186.7,893.3 L188.2,892.9 L189.6,892.6 L191.1,892.3 L192.5,891.9 L194.0,891.6 L195.5,891.2 L196.9,890.9 L198.4,890.5 L199.8,890.1 L201.3,889.7 L202.7,889.4 L204.2,889.0 L205.6,888.6 L207.0,888.2 L208.5,887.8 L209.9,887.4 L211.4,887.0 L212.8,886.6 L214.3,886.2 L215.7,885.8 L217.2,885.4 L218.6,885.0 L220.0,884.6 L221.5,884.1 L222.9,883.7 L224.3,883.2 L225.7,882.7 L227.1,882.2 L228.5,881.7 L229.9,881.1 L231.3,880.6 L232.7,880.0 L234.1,879.5 L235.5,878.9 L236.8,878.3 L238.2,877.7 L239.6,877.0 L240.9,876.4 L242.3,875.8 L243.6,875.1 L245.0,874.5 L246.3,873.8 L247.7,873.1 L249.0,872.4 L250.3,871.7 L251.6,871.0 L252.9,870.2 L254.1,869.3 L255.3,868.5 L256.5,867.6 L257.7,866.7 L258.9,865.8 L260.1,864.9 L261.4,864.0 L262.6,863.2 L263.8,862.3 L265.1,861.5 L266.3,860.6 L267.5,859.8 L268.8,859.0 L270.0,858.1 L271.3,857.3 L272.5,856.5 L273.8,855.7 L275.1,854.9 L276.4,854.1 L277.6,853.4 L278.9,852.6 L280.2,851.9 L281.6,851.2 L282.9,850.5 L284.2,849.8 L285.5,849.1 L286.9,848.4 L288.2,847.8 L289.6,847.2 L291.0,846.6 L292.4,846.1 L293.8,845.7 L295.3,845.3 L296.7,844.9 L298.2,844.7 L299.7,844.6 L301.2,844.6 L302.7,844.6 L304.2,844.8 L305.6,845.2 L307.0,845.6 L308.4,846.1 L309.8,846.8 L311.0,847.6 L312.3,848.4 L313.4,849.4 L314.6,850.3 L315.7,851.4 L316.7,852.4 L317.7,853.5 L318.7,854.6 L319.7,855.8 L320.6,857.0 L321.5,858.2 L322.4,859.4 L323.2,860.6 L324.1,861.9 L324.9,863.1 L325.7,864.3 L326.6,865.6 L327.4,866.8 L328.3,868.1 L329.1,869.3 L329.9,870.6 L330.7,871.8 L331.5,873.1 L332.4,874.3 L333.2,875.6 L334.0,876.8 L334.9,878.1 L335.7,879.3 L336.6,880.5 L337.5,881.7 L338.3,882.9 L339.2,884.2 L340.1,885.4 L341.0,886.6 L341.9,887.8 L342.8,889.0 L343.7,890.2 L344.6,891.3 L345.5,892.5 L346.4,893.7 L347.3,894.9 L348.2,896.1 L349.1,897.3 L350.1,898.5 L351.1,899.6 L352.1,900.7 L353.1,901.8 L354.2,902.8 L355.3,903.8 L356.4,904.8 L357.6,905.7 L358.9,906.5 L360.2,907.1 L361.6,907.6 L363.1,907.9 L364.6,908.1 L366.1,908.1 L367.6,908.1 L369.1,908.0 L370.5,907.9 L372.0,907.9 L373.5,907.8 L375.0,907.7 L376.5,907.5 L378.0,907.3 L379.5,907.2 L381.0,907.1 L382.5,907.1 L384.0,907.1 L385.5,907.2 L387.0,907.4 L388.4,907.5 L389.9,907.5 L391.4,907.4 L392.9,907.1 L394.3,906.7 L395.7,906.2 L397.1,905.6 L398.4,904.8 L399.6,904.0 L400.8,903.1 L401.9,902.1 L403.0,901.1 L404.1,900.0 L405.2,899.0 L406.2,897.9 L407.3,896.9 L408.3,895.8 L409.4,894.8 L410.5,893.8 L411.7,892.8 L412.8,891.8 L413.9,890.8 L415.0,889.8 L416.2,888.9 L417.3,887.9 L418.5,887.0 L419.8,886.1 L421.0,885.3 L422.3,884.6 L423.6,883.9 L425.0,883.3 L426.4,882.7 L427.8,882.2 L429.2,881.7 L430.6,881.2 L432.1,880.8 L433.5,880.3 L434.9,879.8 L436.3,879.4 L437.8,879.0 L439.2,878.6 L440.7,878.3 L442.2,878.1 L443.7,877.9 L445.1,877.9 L446.6,877.8 L448.1,877.9 L449.6,878.0 L451.1,878.2 L452.6,878.6 L454.0,879.0 L455.4,879.5 L456.8,880.1 L458.1,880.7 L459.4,881.4 L460.8,882.2 L462.1,882.9 L463.4,883.6 L464.7,884.4 L466.0,885.1 L467.3,885.8 L468.6,886.6 L469.9,887.4 L471.1,888.1 L472.4,888.9 L473.7,889.7 L474.9,890.6 L476.2,891.4 L477.4,892.3 L478.6,893.2 L479.8,894.1 L481.0,895.0 L482.2,895.9 L483.4,896.7 L484.7,897.5 L486.0,898.2 L487.3,898.9 L488.7,899.5 L490.1,900.1 L491.5,900.6 L492.9,901.1 L494.3,901.6 L495.7,902.0 L497.2,902.4 L498.6,902.8 L500.1,903.1 L501.6,903.5 L503.0,903.7 L504.5,904.0 L506.0,904.2 L507.5,904.4 L509.0,904.5 L510.5,904.6 L512.0,904.6 L513.4,904.6 L514.9,904.7 L516.4,904.7 L517.9,904.7 L519.4,904.7 L520.9,904.6 L522.4,904.6 L523.9,904.6 L525.4,904.6 L526.9,904.8 L528.4,905.0 L529.9,905.3 L531.3,905.7 L532.7,906.1 L534.2,906.5 L535.6,907.0 L537.0,907.4 L538.5,907.7 L540.0,908.1 L541.4,908.4 L542.9,908.7 L544.4,908.9 L545.9,909.1 L547.3,909.3 L548.8,909.4 L550.3,909.5 L551.8,909.6 L553.3,909.7 L554.8,909.7 L556.3,909.8 L557.8,909.8 L559.3,909.9 L560.8,909.9 L562.3,909.9 L563.8,909.9 L565.3,910.0 L566.8,910.0 L568.3,910.0 L569.8,910.0 L571.3,910.0 L572.8,910.0 L574.3,910.0 L575.8,910.0 L577.3,910.0 L578.8,910.0 L580.3,910.0 L581.8,910.0 L583.3,910.0 L584.8,910.0 L586.3,910.0 L587.8,910.0 L589.3,910.0 L590.8,909.9 L592.3,909.9 L593.8,909.9 L595.2,910.0 L596.7,910.0 L598.2,910.0 L599.7,910.0 L601.2,910.0 L602.7,910.0 L604.2,910.0 L605.7,910.0 L607.2,910.1 L608.7,910.1 L610.2,910.1 L611.7,910.1 L613.2,910.1 L614.7,910.2 L616.2,910.2 L617.7,910.2 L619.2,910.2 L620.7,910.2 L622.2,910.3 L623.7,910.3 L625.2,910.3 L626.7,910.3 L628.2,910.4 L629.7,910.4 L631.2,910.4 L632.7,910.4 L634.2,910.5 L635.7,910.5 L637.2,910.5 L638.7,910.5 L640.2,910.6 L641.7,910.6 L643.2,910.6 L644.7,910.6 L646.2,910.7 L647.7,910.7 L649.2,910.7 L650.7,910.7 L652.2,910.7 L653.7,910.8 L655.1,910.8 L656.6,910.8 L658.1,910.8 L659.6,910.8 L661.1,910.8 L662.6,910.9 L664.1,910.9 L665.6,910.9 L667.1,910.9 L668.6,910.9 L670.1,910.9 L671.6,910.9 L673.1,911.0 L674.6,911.0 L676.1,911.0 L677.6,911.0 L679.1,911.0 L680.6,911.0 L682.1,911.0 L683.6,911.0 L685.1,911.1 L686.6,911.1 L688.1,911.1 L689.6,911.1 L691.1,911.1 L692.6,911.1 L694.1,911.1 L695.6,911.1 L697.1,911.2 L698.6,911.2 L700.1,911.2 L701.6,911.2 L703.1,911.2 L704.6,911.2 L706.1,911.2 L707.6,911.3 L709.1,911.3 L710.6,911.3 L712.1,911.3 L713.6,911.4 L715.1,911.4 L716.5,911.4 L718.0,911.4 L719.5,911.5 L721.0,911.5 L722.5,911.6 L724.0,911.6 L725.5,911.6 L727.0,911.7 L728.5,911.7 L730.0,911.8 L731.5,911.8 L733.0,911.8 L734.5,911.9 L736.0,911.9 L737.5,912.0 L739.0,912.0 L740.4,912.1 L742.0,912.1" fill="none" stroke="#2a2a2a" stroke-width="1.3"/>
<g fill="#fff" stroke="#F5000C" stroke-width="2.20"><circle cx="103.4" cy="1050.0" r="7.4"/><circle cx="107.3" cy="1049.5" r="7.4"/><circle cx="111.2" cy="1048.9" r="7.4"/><circle cx="115.2" cy="1048.4" r="7.4"/><circle cx="119.1" cy="1048.0" r="7.4"/><circle cx="123.0" cy="1047.9" r="7.4"/><circle cx="126.9" cy="1048.6" r="7.4"/><circle cx="130.8" cy="1049.4" r="7.4"/><circle cx="134.7" cy="1049.0" r="7.4"/><circle cx="138.7" cy="1047.8" r="7.4"/><circle cx="142.6" cy="1046.8" r="7.4"/><circle cx="146.5" cy="1046.7" r="7.4"/><circle cx="150.4" cy="1046.8" r="7.4"/><circle cx="154.3" cy="1046.7" r="7.4"/><circle cx="158.2" cy="1046.2" r="7.4"/><circle cx="162.2" cy="1045.8" r="7.4"/><circle cx="166.1" cy="1045.8" r="7.4"/><circle cx="170.0" cy="1046.5" r="7.4"/><circle cx="173.9" cy="1046.8" r="7.4"/><circle cx="177.8" cy="1046.2" r="7.4"/><circle cx="181.7" cy="1044.9" r="7.4"/><circle cx="185.7" cy="1043.5" r="7.4"/><circle cx="189.6" cy="1041.8" r="7.4"/><circle cx="193.5" cy="1040.1" r="7.4"/><circle cx="197.4" cy="1038.9" r="7.4"/><circle cx="201.3" cy="1038.3" r="7.4"/><circle cx="205.2" cy="1037.9" r="7.4"/><circle cx="209.2" cy="1037.9" r="7.4"/><circle cx="213.1" cy="1038.3" r="7.4"/><circle cx="217.0" cy="1038.3" r="7.4"/><circle cx="220.9" cy="1036.9" r="7.4"/><circle cx="224.8" cy="1034.0" r="7.4"/><circle cx="228.7" cy="1030.3" r="7.4"/><circle cx="232.7" cy="1025.7" r="7.4"/><circle cx="236.6" cy="1021.1" r="7.4"/><circle cx="240.5" cy="1016.5" r="7.4"/><circle cx="244.4" cy="1012.4" r="7.4"/><circle cx="248.3" cy="1008.6" r="7.4"/><circle cx="252.2" cy="1005.3" r="7.4"/><circle cx="256.2" cy="1002.7" r="7.4"/><circle cx="260.1" cy="1000.8" r="7.4"/><circle cx="264.0" cy="999.2" r="7.4"/><circle cx="267.9" cy="997.8" r="7.4"/><circle cx="271.8" cy="996.7" r="7.4"/><circle cx="275.7" cy="995.8" r="7.4"/><circle cx="279.7" cy="995.6" r="7.4"/><circle cx="283.6" cy="994.8" r="7.4"/><circle cx="287.5" cy="993.4" r="7.4"/><circle cx="291.4" cy="992.1" r="7.4"/><circle cx="295.3" cy="991.3" r="7.4"/><circle cx="299.2" cy="991.0" r="7.4"/><circle cx="303.2" cy="991.9" r="7.4"/><circle cx="307.1" cy="993.8" r="7.4"/><circle cx="311.0" cy="996.6" r="7.4"/><circle cx="314.9" cy="1000.3" r="7.4"/><circle cx="318.8" cy="1004.2" r="7.4"/><circle cx="322.8" cy="1008.2" r="7.4"/><circle cx="326.7" cy="1012.3" r="7.4"/><circle cx="330.6" cy="1016.7" r="7.4"/><circle cx="334.5" cy="1021.4" r="7.4"/><circle cx="338.4" cy="1026.1" r="7.4"/><circle cx="342.3" cy="1030.6" r="7.4"/><circle cx="346.3" cy="1034.9" r="7.4"/><circle cx="350.2" cy="1038.8" r="7.4"/><circle cx="354.1" cy="1042.4" r="7.4"/><circle cx="358.0" cy="1045.7" r="7.4"/><circle cx="361.9" cy="1047.4" r="7.4"/><circle cx="365.8" cy="1046.5" r="7.4"/><circle cx="369.8" cy="1044.9" r="7.4"/><circle cx="373.7" cy="1043.0" r="7.4"/><circle cx="377.6" cy="1040.7" r="7.4"/><circle cx="381.5" cy="1038.0" r="7.4"/><circle cx="385.4" cy="1035.0" r="7.4"/><circle cx="389.3" cy="1031.7" r="7.4"/><circle cx="393.3" cy="1028.2" r="7.4"/><circle cx="397.2" cy="1024.5" r="7.4"/><circle cx="401.1" cy="1020.4" r="7.4"/><circle cx="405.0" cy="1016.0" r="7.4"/><circle cx="408.9" cy="1011.3" r="7.4"/><circle cx="412.8" cy="1006.5" r="7.4"/><circle cx="416.8" cy="1001.4" r="7.4"/><circle cx="420.7" cy="996.9" r="7.4"/><circle cx="424.6" cy="992.8" r="7.4"/><circle cx="428.5" cy="989.2" r="7.4"/><circle cx="432.4" cy="986.1" r="7.4"/><circle cx="436.3" cy="983.4" r="7.4"/><circle cx="440.3" cy="982.2" r="7.4"/><circle cx="444.2" cy="982.6" r="7.4"/><circle cx="448.1" cy="984.0" r="7.4"/><circle cx="452.0" cy="986.3" r="7.4"/><circle cx="455.9" cy="989.9" r="7.4"/><circle cx="459.8" cy="995.2" r="7.4"/><circle cx="463.8" cy="1000.9" r="7.4"/><circle cx="467.7" cy="1006.4" r="7.4"/><circle cx="471.6" cy="1012.0" r="7.4"/><circle cx="475.5" cy="1017.1" r="7.4"/><circle cx="479.4" cy="1021.3" r="7.4"/><circle cx="483.3" cy="1025.1" r="7.4"/><circle cx="487.3" cy="1028.4" r="7.4"/><circle cx="491.2" cy="1031.3" r="7.4"/><circle cx="495.1" cy="1033.8" r="7.4"/><circle cx="499.0" cy="1036.0" r="7.4"/><circle cx="502.9" cy="1038.0" r="7.4"/><circle cx="506.9" cy="1039.7" r="7.4"/><circle cx="510.8" cy="1041.2" r="7.4"/><circle cx="514.7" cy="1042.4" r="7.4"/><circle cx="518.6" cy="1042.9" r="7.4"/><circle cx="522.5" cy="1042.5" r="7.4"/><circle cx="526.4" cy="1041.9" r="7.4"/><circle cx="530.4" cy="1041.3" r="7.4"/><circle cx="534.3" cy="1040.5" r="7.4"/><circle cx="538.2" cy="1040.2" r="7.4"/><circle cx="542.1" cy="1040.3" r="7.4"/><circle cx="546.0" cy="1040.6" r="7.4"/><circle cx="549.9" cy="1041.0" r="7.4"/><circle cx="553.9" cy="1041.4" r="7.4"/><circle cx="557.8" cy="1041.8" r="7.4"/><circle cx="561.7" cy="1042.2" r="7.4"/><circle cx="565.6" cy="1042.6" r="7.4"/><circle cx="569.5" cy="1042.9" r="7.4"/><circle cx="573.4" cy="1043.2" r="7.4"/><circle cx="577.4" cy="1043.6" r="7.4"/><circle cx="581.3" cy="1044.0" r="7.4"/><circle cx="585.2" cy="1044.3" r="7.4"/><circle cx="589.1" cy="1044.6" r="7.4"/><circle cx="593.0" cy="1044.9" r="7.4"/><circle cx="596.9" cy="1045.1" r="7.4"/><circle cx="600.9" cy="1045.3" r="7.4"/><circle cx="604.8" cy="1045.4" r="7.4"/><circle cx="608.7" cy="1045.4" r="7.4"/><circle cx="612.6" cy="1045.4" r="7.4"/><circle cx="616.5" cy="1045.3" r="7.4"/><circle cx="620.4" cy="1045.1" r="7.4"/><circle cx="624.4" cy="1045.0" r="7.4"/><circle cx="628.3" cy="1044.8" r="7.4"/><circle cx="632.2" cy="1044.6" r="7.4"/><circle cx="636.1" cy="1044.4" r="7.4"/><circle cx="640.0" cy="1044.2" r="7.4"/><circle cx="643.9" cy="1043.9" r="7.4"/><circle cx="647.9" cy="1043.7" r="7.4"/><circle cx="651.8" cy="1043.5" r="7.4"/><circle cx="655.7" cy="1043.3" r="7.4"/><circle cx="659.6" cy="1043.0" r="7.4"/><circle cx="663.5" cy="1042.7" r="7.4"/><circle cx="667.4" cy="1042.4" r="7.4"/><circle cx="671.4" cy="1042.1" r="7.4"/><circle cx="675.3" cy="1041.8" r="7.4"/><circle cx="679.2" cy="1041.6" r="7.4"/><circle cx="683.1" cy="1041.4" r="7.4"/><circle cx="687.0" cy="1041.3" r="7.4"/><circle cx="690.9" cy="1041.2" r="7.4"/><circle cx="694.9" cy="1041.1" r="7.4"/><circle cx="698.8" cy="1041.0" r="7.4"/><circle cx="702.7" cy="1040.9" r="7.4"/><circle cx="706.6" cy="1040.9" r="7.4"/><circle cx="710.5" cy="1040.8" r="7.4"/><circle cx="714.5" cy="1040.8" r="7.4"/><circle cx="718.4" cy="1040.7" r="7.4"/><circle cx="722.3" cy="1040.7" r="7.4"/><circle cx="726.2" cy="1040.7" r="7.4"/><circle cx="730.1" cy="1040.7" r="7.4"/><circle cx="734.0" cy="1040.9" r="7.4"/><circle cx="738.0" cy="1041.2" r="7.4"/><circle cx="741.9" cy="1041.7" r="7.4"/></g>
<path d="M103.4,1050.0 L105.0,1049.8 L106.4,1049.6 L107.9,1049.4 L109.3,1049.2 L110.8,1049.0 L112.3,1048.8 L113.8,1048.6 L115.3,1048.4 L116.8,1048.2 L118.3,1048.1 L119.8,1048.0 L121.3,1048.0 L122.8,1048.0 L124.2,1048.1 L125.7,1048.4 L127.2,1048.7 L128.6,1049.0 L130.1,1049.2 L131.6,1049.3 L133.1,1049.2 L134.6,1048.9 L136.0,1048.6 L137.5,1048.2 L138.9,1047.7 L140.3,1047.3 L141.8,1047.0 L143.3,1046.8 L144.8,1046.7 L146.3,1046.7 L147.8,1046.7 L149.3,1046.8 L150.8,1046.8 L152.3,1046.8 L153.8,1046.7 L155.2,1046.6 L156.7,1046.4 L158.2,1046.2 L159.7,1046.1 L161.2,1045.9 L162.7,1045.8 L164.2,1045.8 L165.7,1045.8 L167.2,1046.0 L168.6,1046.3 L170.1,1046.5 L171.6,1046.7 L173.1,1046.8 L174.6,1046.7 L176.1,1046.5 L177.5,1046.2 L179.0,1045.8 L180.4,1045.4 L181.8,1044.9 L183.2,1044.4 L184.6,1043.8 L186.0,1043.3 L187.4,1042.7 L188.8,1042.2 L190.2,1041.6 L191.6,1041.0 L192.9,1040.4 L194.3,1039.9 L195.8,1039.4 L197.2,1039.0 L198.7,1038.7 L200.2,1038.5 L201.6,1038.2 L203.1,1038.1 L204.6,1037.9 L206.1,1037.9 L207.6,1037.8 L209.1,1037.9 L210.6,1038.0 L212.1,1038.2 L213.6,1038.3 L215.1,1038.3 L216.6,1038.3 L218.0,1038.0 L219.4,1037.5 L220.8,1036.9 L222.1,1036.1 L223.3,1035.2 L224.4,1034.3 L225.6,1033.3 L226.7,1032.3 L227.7,1031.3 L228.8,1030.2 L229.8,1029.1 L230.8,1027.9 L231.7,1026.8 L232.7,1025.6 L233.7,1024.5 L234.6,1023.4 L235.6,1022.2 L236.6,1021.1 L237.5,1019.9 L238.5,1018.8 L239.5,1017.6 L240.5,1016.5 L241.5,1015.4 L242.5,1014.3 L243.6,1013.2 L244.6,1012.2 L245.7,1011.1 L246.8,1010.1 L247.9,1009.1 L249.0,1008.0 L250.1,1007.1 L251.2,1006.1 L252.4,1005.2 L253.6,1004.3 L254.9,1003.5 L256.2,1002.7 L257.5,1002.0 L258.9,1001.4 L260.2,1000.8 L261.6,1000.2 L263.0,999.6 L264.4,999.1 L265.8,998.5 L267.2,998.1 L268.6,997.6 L270.1,997.2 L271.5,996.8 L273.0,996.4 L274.4,996.1 L275.9,995.8 L277.4,995.7 L278.9,995.6 L280.4,995.4 L281.9,995.2 L283.3,994.8 L284.7,994.4 L286.2,993.9 L287.6,993.4 L289.0,992.9 L290.4,992.4 L291.9,992.0 L293.3,991.7 L294.8,991.4 L296.3,991.2 L297.8,991.1 L299.3,991.1 L300.7,991.3 L302.2,991.6 L303.6,992.1 L305.0,992.7 L306.3,993.4 L307.6,994.2 L308.8,995.0 L310.0,995.9 L311.2,996.8 L312.3,997.8 L313.4,998.8 L314.5,999.9 L315.6,1000.9 L316.6,1002.0 L317.7,1003.1 L318.7,1004.1 L319.8,1005.2 L320.8,1006.3 L321.9,1007.3 L322.9,1008.4 L324.0,1009.5 L325.0,1010.6 L326.1,1011.6 L327.1,1012.7 L328.1,1013.9 L329.1,1015.0 L330.1,1016.1 L331.1,1017.2 L332.0,1018.4 L333.0,1019.5 L333.9,1020.7 L334.9,1021.8 L335.8,1023.0 L336.8,1024.2 L337.8,1025.3 L338.7,1026.4 L339.7,1027.6 L340.7,1028.7 L341.7,1029.8 L342.7,1031.0 L343.7,1032.1 L344.7,1033.2 L345.7,1034.3 L346.7,1035.4 L347.8,1036.5 L348.8,1037.5 L349.9,1038.6 L351.0,1039.6 L352.1,1040.6 L353.2,1041.6 L354.3,1042.6 L355.5,1043.6 L356.6,1044.5 L357.8,1045.5 L359.0,1046.3 L360.3,1047.0 L361.7,1047.2 L363.2,1047.1 L364.6,1046.8 L366.0,1046.4 L367.5,1045.9 L368.8,1045.3 L370.2,1044.7 L371.6,1044.1 L372.9,1043.4 L374.2,1042.7 L375.5,1042.0 L376.8,1041.2 L378.1,1040.4 L379.3,1039.5 L380.6,1038.7 L381.8,1037.8 L383.0,1036.9 L384.2,1036.0 L385.3,1035.1 L386.5,1034.1 L387.6,1033.1 L388.8,1032.2 L389.9,1031.2 L391.0,1030.2 L392.1,1029.2 L393.3,1028.2 L394.4,1027.2 L395.4,1026.1 L396.5,1025.1 L397.6,1024.0 L398.7,1023.0 L399.7,1021.9 L400.7,1020.8 L401.7,1019.7 L402.7,1018.6 L403.7,1017.5 L404.7,1016.3 L405.7,1015.2 L406.6,1014.0 L407.6,1012.9 L408.6,1011.7 L409.5,1010.6 L410.5,1009.4 L411.4,1008.3 L412.3,1007.1 L413.3,1005.9 L414.2,1004.7 L415.1,1003.5 L416.0,1002.4 L417.0,1001.2 L417.9,1000.0 L418.9,998.9 L419.9,997.8 L420.9,996.6 L421.9,995.5 L422.9,994.5 L424.0,993.4 L425.1,992.3 L426.1,991.3 L427.2,990.3 L428.4,989.3 L429.5,988.4 L430.7,987.4 L431.9,986.5 L433.1,985.6 L434.3,984.7 L435.6,983.9 L436.9,983.2 L438.3,982.7 L439.7,982.4 L441.2,982.3 L442.7,982.4 L444.2,982.7 L445.6,983.1 L447.0,983.6 L448.4,984.2 L449.7,984.9 L451.0,985.7 L452.2,986.5 L453.4,987.5 L454.5,988.5 L455.5,989.5 L456.5,990.7 L457.4,991.8 L458.3,993.0 L459.2,994.3 L460.1,995.5 L460.9,996.7 L461.7,998.0 L462.6,999.2 L463.5,1000.4 L464.3,1001.7 L465.2,1002.9 L466.1,1004.1 L466.9,1005.3 L467.8,1006.6 L468.6,1007.8 L469.5,1009.0 L470.3,1010.3 L471.2,1011.5 L472.1,1012.7 L473.0,1013.9 L473.9,1015.1 L474.8,1016.2 L475.8,1017.4 L476.8,1018.5 L477.8,1019.6 L478.8,1020.7 L479.9,1021.8 L481.0,1022.8 L482.0,1023.9 L483.1,1024.9 L484.3,1025.9 L485.4,1026.9 L486.6,1027.8 L487.7,1028.8 L488.9,1029.7 L490.2,1030.5 L491.4,1031.4 L492.6,1032.2 L493.9,1033.0 L495.2,1033.8 L496.5,1034.6 L497.8,1035.3 L499.1,1036.0 L500.4,1036.7 L501.7,1037.4 L503.1,1038.0 L504.5,1038.7 L505.8,1039.2 L507.2,1039.8 L508.6,1040.4 L510.0,1040.9 L511.4,1041.4 L512.9,1041.8 L514.3,1042.2 L515.8,1042.5 L517.3,1042.7 L518.8,1042.8 L520.3,1042.7 L521.7,1042.5 L523.2,1042.3 L524.7,1042.1 L526.2,1041.9 L527.7,1041.8 L529.2,1041.7 L530.7,1041.7 L532.2,1041.7 L533.7,1041.8 L535.2,1041.9 L536.7,1041.9 L538.2,1042.0 L539.7,1042.1 L541.2,1042.2 L542.7,1042.2 L544.2,1042.3 L545.6,1042.4 L547.1,1042.5 L548.6,1042.6 L550.1,1042.7 L551.6,1042.7 L553.1,1042.8 L554.6,1042.9 L556.1,1043.0 L557.6,1043.1 L559.1,1043.2 L560.6,1043.2 L562.1,1043.3 L563.6,1043.4 L565.1,1043.4 L566.6,1043.5 L568.1,1043.6 L569.6,1043.6 L571.1,1043.7 L572.6,1043.7 L574.1,1043.7 L575.6,1043.8 L577.1,1043.8 L578.6,1043.8 L580.1,1043.9 L581.6,1043.9 L583.1,1043.9 L584.6,1043.9 L586.1,1043.9 L587.6,1044.0 L589.1,1044.0 L590.6,1044.0 L592.1,1044.0 L593.6,1044.0 L595.1,1044.1 L596.6,1044.1 L598.1,1044.1 L599.6,1044.2 L601.1,1044.2 L602.6,1044.2 L604.1,1044.3 L605.6,1044.3 L607.1,1044.3 L608.6,1044.4 L610.1,1044.4 L611.6,1044.5 L613.1,1044.5 L614.6,1044.6 L616.1,1044.6 L617.6,1044.7 L619.1,1044.7 L620.6,1044.8 L622.1,1044.9 L623.6,1044.9 L625.1,1045.0 L626.6,1045.0 L628.1,1045.1 L629.6,1045.1 L631.1,1045.2 L632.6,1045.3 L634.1,1045.3 L635.6,1045.4 L637.1,1045.4 L638.5,1045.5 L640.0,1045.5 L641.5,1045.6 L643.0,1045.6 L644.5,1045.7 L646.0,1045.7 L647.5,1045.7 L649.0,1045.8 L650.5,1045.8 L652.0,1045.8 L653.5,1045.9 L655.0,1045.9 L656.5,1045.9 L658.0,1045.9 L659.5,1045.9 L661.0,1045.9 L662.5,1045.9 L664.0,1045.9 L665.5,1045.9 L667.0,1045.9 L668.5,1045.9 L670.0,1045.8 L671.5,1045.8 L673.0,1045.8 L674.5,1045.8 L676.0,1045.8 L677.5,1045.8 L679.0,1045.8 L680.5,1045.8 L682.0,1045.8 L683.5,1045.8 L685.0,1045.8 L686.5,1045.8 L688.0,1045.8 L689.5,1045.8 L691.0,1045.8 L692.5,1045.8 L694.0,1045.8 L695.5,1045.8 L697.0,1045.9 L698.5,1045.9 L700.0,1045.9 L701.5,1045.9 L703.0,1045.9 L704.5,1045.9 L706.0,1045.9 L707.5,1045.9 L709.0,1045.9 L710.5,1045.9 L712.0,1045.9 L713.5,1045.9 L715.0,1045.9 L716.5,1046.0 L718.0,1046.0 L719.5,1046.0 L721.0,1046.0 L722.5,1046.0 L724.0,1046.0 L725.5,1046.0 L727.0,1046.0 L728.5,1046.0 L730.0,1046.0 L731.5,1046.0 L733.0,1046.1 L734.5,1046.1 L736.0,1046.1 L737.5,1046.1 L739.0,1046.1 L740.4,1046.1 L742.0,1046.1" fill="none" stroke="#2a2a2a" stroke-width="1.3"/>
</g>
<g stroke="#222" stroke-width="1.6" fill="none">
<rect x="103.6" y="621" width="638.4" height="446.3"/>
<line x1="103.4" y1="621.0" x2="103.4" y2="627.0"/><line x1="103.4" y1="1067.3" x2="103.4" y2="1061.3"/><line x1="167.3" y1="621.0" x2="167.3" y2="623.5"/><line x1="167.3" y1="1067.3" x2="167.3" y2="1064.8"/><line x1="231.1" y1="621.0" x2="231.1" y2="627.0"/><line x1="231.1" y1="1067.3" x2="231.1" y2="1061.3"/><line x1="295.0" y1="621.0" x2="295.0" y2="623.5"/><line x1="295.0" y1="1067.3" x2="295.0" y2="1064.8"/><line x1="358.8" y1="621.0" x2="358.8" y2="627.0"/><line x1="358.8" y1="1067.3" x2="358.8" y2="1061.3"/><line x1="422.7" y1="621.0" x2="422.7" y2="623.5"/><line x1="422.7" y1="1067.3" x2="422.7" y2="1064.8"/><line x1="486.6" y1="621.0" x2="486.6" y2="627.0"/><line x1="486.6" y1="1067.3" x2="486.6" y2="1061.3"/><line x1="550.4" y1="621.0" x2="550.4" y2="623.5"/><line x1="550.4" y1="1067.3" x2="550.4" y2="1064.8"/><line x1="614.3" y1="621.0" x2="614.3" y2="627.0"/><line x1="614.3" y1="1067.3" x2="614.3" y2="1061.3"/><line x1="678.1" y1="621.0" x2="678.1" y2="623.5"/><line x1="678.1" y1="1067.3" x2="678.1" y2="1064.8"/><line x1="742.0" y1="621.0" x2="742.0" y2="627.0"/><line x1="742.0" y1="1067.3" x2="742.0" y2="1061.3"/>
</g>
<g font-family="Liberation Sans, sans-serif" fill="#000">
<text x="119" y="666.3" font-size="33.4" textLength="75" lengthAdjust="spacingAndGlyphs">K-Co</text>
<g font-size="26.8" text-anchor="middle">
<text x="103.4" y="1094.9" textLength="13.6" lengthAdjust="spacingAndGlyphs">0</text><text x="231.2" y="1094.9" textLength="13.6" lengthAdjust="spacingAndGlyphs">1</text><text x="358.9" y="1094.9" textLength="13.6" lengthAdjust="spacingAndGlyphs">2</text><text x="486.7" y="1094.9" textLength="13.6" lengthAdjust="spacingAndGlyphs">3</text><text x="614.4" y="1094.9" textLength="13.6" lengthAdjust="spacingAndGlyphs">4</text><text x="742" y="1094.9" textLength="13.6" lengthAdjust="spacingAndGlyphs">5</text>
</g>
<text x="385.2" y="1141.2" font-size="33" font-weight="bold" textLength="23.8" lengthAdjust="spacingAndGlyphs">R</text>
<text x="417.0" y="1141.2" font-size="33" font-weight="normal" textLength="44.9" lengthAdjust="spacingAndGlyphs">(Å)</text>
<text transform="translate(85.4,927.7) rotate(-90)" font-size="34" font-weight="bold" textLength="81.3" lengthAdjust="spacingAndGlyphs">|<tspan font-weight='normal' font-family='Liberation Serif'>χ</tspan>(R)|</text>
<text transform="translate(85.4,836.7) rotate(-90)" font-size="34" font-weight="normal" textLength="76.8" lengthAdjust="spacingAndGlyphs">(a.u.)</text>
<text x="688.8" y="745.2" font-size="21" font-weight="bold" textLength="45.5" lengthAdjust="spacingAndGlyphs">-LHs</text>
<text x="681.0" y="874.1" font-size="21" font-weight="bold" textLength="53.5" lengthAdjust="spacingAndGlyphs">LDHs</text>
<text x="688.8" y="1004.4" font-size="21" font-weight="bold" textLength="45.5" lengthAdjust="spacingAndGlyphs">-LHs</text>
<text x="678.0" y="745.2" font-size="21" textLength="10.7" lengthAdjust="spacingAndGlyphs">β</text>
<text x="675.7" y="1004.4" font-size="21" textLength="12.4" lengthAdjust="spacingAndGlyphs">α</text>
</g>
</svg>
</body></html>
